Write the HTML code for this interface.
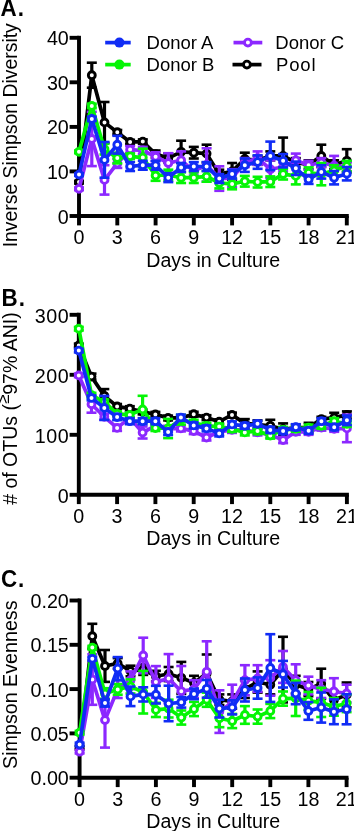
<!DOCTYPE html>
<html><head><meta charset="utf-8"><style>
html,body{margin:0;padding:0;background:#fff;}
svg{display:block;will-change:transform;font-family:"Liberation Sans", sans-serif;}
</style></head><body>
<svg width="354" height="831" viewBox="0 0 354 831">
<rect width="354" height="831" fill="#fff"/>
<g stroke="#000" stroke-width="3.9" fill="none">
<line x1="79.0" y1="35.8" x2="79.0" y2="216.0"/>
<line x1="77.1" y1="216.0" x2="348.8" y2="216.0"/>
<line x1="69.6" y1="216.0" x2="79.0" y2="216.0"/>
<line x1="69.6" y1="171.4" x2="79.0" y2="171.4"/>
<line x1="69.6" y1="126.9" x2="79.0" y2="126.9"/>
<line x1="69.6" y1="82.3" x2="79.0" y2="82.3"/>
<line x1="69.6" y1="37.8" x2="79.0" y2="37.8"/>
<line x1="79.0" y1="216.0" x2="79.0" y2="225.4"/>
<line x1="117.3" y1="216.0" x2="117.3" y2="225.4"/>
<line x1="155.6" y1="216.0" x2="155.6" y2="225.4"/>
<line x1="193.8" y1="216.0" x2="193.8" y2="225.4"/>
<line x1="232.1" y1="216.0" x2="232.1" y2="225.4"/>
<line x1="270.3" y1="216.0" x2="270.3" y2="225.4"/>
<line x1="308.6" y1="216.0" x2="308.6" y2="225.4"/>
<line x1="346.8" y1="216.0" x2="346.8" y2="225.4"/>
</g>
<g stroke="#000000"><line x1="79.0" y1="180.8" x2="79.0" y2="183.5" stroke-width="3.2"/><line x1="74.0" y1="180.8" x2="84.0" y2="180.8" stroke-width="2.6"/><line x1="74.0" y1="183.5" x2="84.0" y2="183.5" stroke-width="2.6"/><line x1="91.8" y1="62.7" x2="91.8" y2="87.7" stroke-width="3.2"/><line x1="86.8" y1="62.7" x2="96.8" y2="62.7" stroke-width="2.6"/><line x1="86.8" y1="87.7" x2="96.8" y2="87.7" stroke-width="2.6"/><line x1="104.5" y1="102.0" x2="104.5" y2="142.9" stroke-width="3.2"/><line x1="99.5" y1="102.0" x2="109.5" y2="102.0" stroke-width="2.6"/><line x1="99.5" y1="142.9" x2="109.5" y2="142.9" stroke-width="2.6"/><line x1="117.3" y1="130.0" x2="117.3" y2="134.5" stroke-width="3.2"/><line x1="112.3" y1="130.0" x2="122.3" y2="130.0" stroke-width="2.6"/><line x1="112.3" y1="134.5" x2="122.3" y2="134.5" stroke-width="2.6"/><line x1="130.1" y1="139.8" x2="130.1" y2="144.3" stroke-width="3.2"/><line x1="125.1" y1="139.8" x2="135.1" y2="139.8" stroke-width="2.6"/><line x1="125.1" y1="144.3" x2="135.1" y2="144.3" stroke-width="2.6"/><line x1="142.8" y1="139.4" x2="142.8" y2="143.8" stroke-width="3.2"/><line x1="137.8" y1="139.4" x2="147.8" y2="139.4" stroke-width="2.6"/><line x1="137.8" y1="143.8" x2="147.8" y2="143.8" stroke-width="2.6"/><line x1="155.6" y1="150.5" x2="155.6" y2="157.6" stroke-width="3.2"/><line x1="150.6" y1="150.5" x2="160.6" y2="150.5" stroke-width="2.6"/><line x1="150.6" y1="157.6" x2="160.6" y2="157.6" stroke-width="2.6"/><line x1="168.3" y1="153.6" x2="168.3" y2="162.5" stroke-width="3.2"/><line x1="163.3" y1="153.6" x2="173.3" y2="153.6" stroke-width="2.6"/><line x1="163.3" y1="162.5" x2="173.3" y2="162.5" stroke-width="2.6"/><line x1="181.1" y1="140.7" x2="181.1" y2="163.0" stroke-width="3.2"/><line x1="176.1" y1="140.7" x2="186.1" y2="140.7" stroke-width="2.6"/><line x1="176.1" y1="163.0" x2="186.1" y2="163.0" stroke-width="2.6"/><line x1="193.8" y1="146.9" x2="193.8" y2="158.5" stroke-width="3.2"/><line x1="188.8" y1="146.9" x2="198.8" y2="146.9" stroke-width="2.6"/><line x1="188.8" y1="158.5" x2="198.8" y2="158.5" stroke-width="2.6"/><line x1="206.6" y1="144.7" x2="206.6" y2="162.5" stroke-width="3.2"/><line x1="201.6" y1="144.7" x2="211.6" y2="144.7" stroke-width="2.6"/><line x1="201.6" y1="162.5" x2="211.6" y2="162.5" stroke-width="2.6"/><line x1="219.3" y1="169.7" x2="219.3" y2="178.6" stroke-width="3.2"/><line x1="214.3" y1="169.7" x2="224.3" y2="169.7" stroke-width="2.6"/><line x1="214.3" y1="178.6" x2="224.3" y2="178.6" stroke-width="2.6"/><line x1="232.1" y1="163.0" x2="232.1" y2="179.9" stroke-width="3.2"/><line x1="227.1" y1="163.0" x2="237.1" y2="163.0" stroke-width="2.6"/><line x1="227.1" y1="179.9" x2="237.1" y2="179.9" stroke-width="2.6"/><line x1="244.8" y1="152.7" x2="244.8" y2="165.2" stroke-width="3.2"/><line x1="239.8" y1="152.7" x2="249.8" y2="152.7" stroke-width="2.6"/><line x1="239.8" y1="165.2" x2="249.8" y2="165.2" stroke-width="2.6"/><line x1="257.6" y1="155.9" x2="257.6" y2="164.8" stroke-width="3.2"/><line x1="252.6" y1="155.9" x2="262.6" y2="155.9" stroke-width="2.6"/><line x1="252.6" y1="164.8" x2="262.6" y2="164.8" stroke-width="2.6"/><line x1="270.3" y1="151.4" x2="270.3" y2="160.3" stroke-width="3.2"/><line x1="265.3" y1="151.4" x2="275.3" y2="151.4" stroke-width="2.6"/><line x1="265.3" y1="160.3" x2="275.3" y2="160.3" stroke-width="2.6"/><line x1="283.1" y1="137.6" x2="283.1" y2="174.1" stroke-width="3.2"/><line x1="278.1" y1="137.6" x2="288.1" y2="137.6" stroke-width="2.6"/><line x1="278.1" y1="174.1" x2="288.1" y2="174.1" stroke-width="2.6"/><line x1="295.8" y1="158.1" x2="295.8" y2="167.0" stroke-width="3.2"/><line x1="290.8" y1="158.1" x2="300.8" y2="158.1" stroke-width="2.6"/><line x1="290.8" y1="167.0" x2="300.8" y2="167.0" stroke-width="2.6"/><line x1="308.6" y1="160.3" x2="308.6" y2="169.2" stroke-width="3.2"/><line x1="303.6" y1="160.3" x2="313.6" y2="160.3" stroke-width="2.6"/><line x1="303.6" y1="169.2" x2="313.6" y2="169.2" stroke-width="2.6"/><line x1="321.3" y1="144.7" x2="321.3" y2="167.0" stroke-width="3.2"/><line x1="316.3" y1="144.7" x2="326.3" y2="144.7" stroke-width="2.6"/><line x1="316.3" y1="167.0" x2="326.3" y2="167.0" stroke-width="2.6"/><line x1="334.1" y1="160.3" x2="334.1" y2="169.2" stroke-width="3.2"/><line x1="329.1" y1="160.3" x2="339.1" y2="160.3" stroke-width="2.6"/><line x1="329.1" y1="169.2" x2="339.1" y2="169.2" stroke-width="2.6"/><line x1="346.8" y1="149.2" x2="346.8" y2="172.3" stroke-width="3.2"/><line x1="341.8" y1="149.2" x2="351.8" y2="149.2" stroke-width="2.6"/><line x1="341.8" y1="172.3" x2="351.8" y2="172.3" stroke-width="2.6"/><polyline points="79.0,182.1 91.8,75.2 104.5,122.4 117.3,132.2 130.1,142.0 142.8,141.6 155.6,154.1 168.3,158.1 181.1,151.8 193.8,152.7 206.6,153.6 219.3,174.1 232.1,171.4 244.8,159.0 257.6,160.3 270.3,155.9 283.1,155.9 295.8,162.5 308.6,164.8 321.3,155.9 334.1,164.8 346.8,160.8" fill="none" stroke-width="3.7" stroke-linejoin="round"/><circle cx="79.0" cy="182.1" r="3.45" fill="#fff" stroke-width="2.9"/><circle cx="91.8" cy="75.2" r="3.45" fill="#fff" stroke-width="2.9"/><circle cx="104.5" cy="122.4" r="3.45" fill="#fff" stroke-width="2.9"/><circle cx="117.3" cy="132.2" r="3.45" fill="#fff" stroke-width="2.9"/><circle cx="130.1" cy="142.0" r="3.45" fill="#fff" stroke-width="2.9"/><circle cx="142.8" cy="141.6" r="3.45" fill="#fff" stroke-width="2.9"/><circle cx="155.6" cy="154.1" r="3.45" fill="#fff" stroke-width="2.9"/><circle cx="168.3" cy="158.1" r="3.45" fill="#fff" stroke-width="2.9"/><circle cx="181.1" cy="151.8" r="3.45" fill="#fff" stroke-width="2.9"/><circle cx="193.8" cy="152.7" r="3.45" fill="#fff" stroke-width="2.9"/><circle cx="206.6" cy="153.6" r="3.45" fill="#fff" stroke-width="2.9"/><circle cx="219.3" cy="174.1" r="3.45" fill="#fff" stroke-width="2.9"/><circle cx="232.1" cy="171.4" r="3.45" fill="#fff" stroke-width="2.9"/><circle cx="244.8" cy="159.0" r="3.45" fill="#fff" stroke-width="2.9"/><circle cx="257.6" cy="160.3" r="3.45" fill="#fff" stroke-width="2.9"/><circle cx="270.3" cy="155.9" r="3.45" fill="#fff" stroke-width="2.9"/><circle cx="283.1" cy="155.9" r="3.45" fill="#fff" stroke-width="2.9"/><circle cx="295.8" cy="162.5" r="3.45" fill="#fff" stroke-width="2.9"/><circle cx="308.6" cy="164.8" r="3.45" fill="#fff" stroke-width="2.9"/><circle cx="321.3" cy="155.9" r="3.45" fill="#fff" stroke-width="2.9"/><circle cx="334.1" cy="164.8" r="3.45" fill="#fff" stroke-width="2.9"/><circle cx="346.8" cy="160.8" r="3.45" fill="#fff" stroke-width="2.9"/></g>
<g stroke="#8c28ff"><line x1="79.0" y1="187.5" x2="79.0" y2="190.2" stroke-width="3.2"/><line x1="74.0" y1="187.5" x2="84.0" y2="187.5" stroke-width="2.6"/><line x1="74.0" y1="190.2" x2="84.0" y2="190.2" stroke-width="2.6"/><line x1="91.8" y1="111.8" x2="91.8" y2="166.1" stroke-width="3.2"/><line x1="86.8" y1="111.8" x2="96.8" y2="111.8" stroke-width="2.6"/><line x1="86.8" y1="166.1" x2="96.8" y2="166.1" stroke-width="2.6"/><line x1="104.5" y1="165.2" x2="104.5" y2="194.6" stroke-width="3.2"/><line x1="99.5" y1="165.2" x2="109.5" y2="165.2" stroke-width="2.6"/><line x1="99.5" y1="194.6" x2="109.5" y2="194.6" stroke-width="2.6"/><line x1="117.3" y1="159.0" x2="117.3" y2="167.9" stroke-width="3.2"/><line x1="112.3" y1="159.0" x2="122.3" y2="159.0" stroke-width="2.6"/><line x1="112.3" y1="167.9" x2="122.3" y2="167.9" stroke-width="2.6"/><line x1="130.1" y1="146.1" x2="130.1" y2="153.2" stroke-width="3.2"/><line x1="125.1" y1="146.1" x2="135.1" y2="146.1" stroke-width="2.6"/><line x1="125.1" y1="153.2" x2="135.1" y2="153.2" stroke-width="2.6"/><line x1="142.8" y1="146.9" x2="142.8" y2="154.1" stroke-width="3.2"/><line x1="137.8" y1="146.9" x2="147.8" y2="146.9" stroke-width="2.6"/><line x1="137.8" y1="154.1" x2="147.8" y2="154.1" stroke-width="2.6"/><line x1="155.6" y1="152.3" x2="155.6" y2="161.2" stroke-width="3.2"/><line x1="150.6" y1="152.3" x2="160.6" y2="152.3" stroke-width="2.6"/><line x1="150.6" y1="161.2" x2="160.6" y2="161.2" stroke-width="2.6"/><line x1="168.3" y1="153.2" x2="168.3" y2="172.8" stroke-width="3.2"/><line x1="163.3" y1="153.2" x2="173.3" y2="153.2" stroke-width="2.6"/><line x1="163.3" y1="172.8" x2="173.3" y2="172.8" stroke-width="2.6"/><line x1="181.1" y1="151.4" x2="181.1" y2="169.2" stroke-width="3.2"/><line x1="176.1" y1="151.4" x2="186.1" y2="151.4" stroke-width="2.6"/><line x1="176.1" y1="169.2" x2="186.1" y2="169.2" stroke-width="2.6"/><line x1="193.8" y1="166.5" x2="193.8" y2="175.5" stroke-width="3.2"/><line x1="188.8" y1="166.5" x2="198.8" y2="166.5" stroke-width="2.6"/><line x1="188.8" y1="175.5" x2="198.8" y2="175.5" stroke-width="2.6"/><line x1="206.6" y1="148.3" x2="206.6" y2="181.7" stroke-width="3.2"/><line x1="201.6" y1="148.3" x2="211.6" y2="148.3" stroke-width="2.6"/><line x1="201.6" y1="181.7" x2="211.6" y2="181.7" stroke-width="2.6"/><line x1="219.3" y1="166.3" x2="219.3" y2="190.8" stroke-width="3.2"/><line x1="214.3" y1="166.3" x2="224.3" y2="166.3" stroke-width="2.6"/><line x1="214.3" y1="190.8" x2="224.3" y2="190.8" stroke-width="2.6"/><line x1="232.1" y1="169.2" x2="232.1" y2="187.0" stroke-width="3.2"/><line x1="227.1" y1="169.2" x2="237.1" y2="169.2" stroke-width="2.6"/><line x1="227.1" y1="187.0" x2="237.1" y2="187.0" stroke-width="2.6"/><line x1="244.8" y1="158.1" x2="244.8" y2="167.0" stroke-width="3.2"/><line x1="239.8" y1="158.1" x2="249.8" y2="158.1" stroke-width="2.6"/><line x1="239.8" y1="167.0" x2="249.8" y2="167.0" stroke-width="2.6"/><line x1="257.6" y1="151.4" x2="257.6" y2="164.8" stroke-width="3.2"/><line x1="252.6" y1="151.4" x2="262.6" y2="151.4" stroke-width="2.6"/><line x1="252.6" y1="164.8" x2="262.6" y2="164.8" stroke-width="2.6"/><line x1="270.3" y1="160.3" x2="270.3" y2="178.1" stroke-width="3.2"/><line x1="265.3" y1="160.3" x2="275.3" y2="160.3" stroke-width="2.6"/><line x1="265.3" y1="178.1" x2="275.3" y2="178.1" stroke-width="2.6"/><line x1="283.1" y1="162.5" x2="283.1" y2="171.4" stroke-width="3.2"/><line x1="278.1" y1="162.5" x2="288.1" y2="162.5" stroke-width="2.6"/><line x1="278.1" y1="171.4" x2="288.1" y2="171.4" stroke-width="2.6"/><line x1="295.8" y1="153.6" x2="295.8" y2="167.0" stroke-width="3.2"/><line x1="290.8" y1="153.6" x2="300.8" y2="153.6" stroke-width="2.6"/><line x1="290.8" y1="167.0" x2="300.8" y2="167.0" stroke-width="2.6"/><line x1="308.6" y1="160.8" x2="308.6" y2="169.7" stroke-width="3.2"/><line x1="303.6" y1="160.8" x2="313.6" y2="160.8" stroke-width="2.6"/><line x1="303.6" y1="169.7" x2="313.6" y2="169.7" stroke-width="2.6"/><line x1="321.3" y1="158.1" x2="321.3" y2="167.0" stroke-width="3.2"/><line x1="316.3" y1="158.1" x2="326.3" y2="158.1" stroke-width="2.6"/><line x1="316.3" y1="167.0" x2="326.3" y2="167.0" stroke-width="2.6"/><line x1="334.1" y1="155.9" x2="334.1" y2="175.5" stroke-width="3.2"/><line x1="329.1" y1="155.9" x2="339.1" y2="155.9" stroke-width="2.6"/><line x1="329.1" y1="175.5" x2="339.1" y2="175.5" stroke-width="2.6"/><line x1="346.8" y1="162.5" x2="346.8" y2="171.4" stroke-width="3.2"/><line x1="341.8" y1="162.5" x2="351.8" y2="162.5" stroke-width="2.6"/><line x1="341.8" y1="171.4" x2="351.8" y2="171.4" stroke-width="2.6"/><polyline points="79.0,188.8 91.8,138.9 104.5,179.9 117.3,163.4 130.1,149.6 142.8,150.5 155.6,156.7 168.3,163.0 181.1,160.3 193.8,171.0 206.6,165.0 219.3,178.6 232.1,178.1 244.8,162.5 257.6,158.1 270.3,169.2 283.1,167.0 295.8,160.3 308.6,165.2 321.3,162.5 334.1,165.7 346.8,167.0" fill="none" stroke-width="3.7" stroke-linejoin="round"/><circle cx="79.0" cy="188.8" r="3.45" fill="#fff" stroke-width="2.9"/><circle cx="91.8" cy="138.9" r="3.45" fill="#fff" stroke-width="2.9"/><circle cx="104.5" cy="179.9" r="3.45" fill="#fff" stroke-width="2.9"/><circle cx="117.3" cy="163.4" r="3.45" fill="#fff" stroke-width="2.9"/><circle cx="130.1" cy="149.6" r="3.45" fill="#fff" stroke-width="2.9"/><circle cx="142.8" cy="150.5" r="3.45" fill="#fff" stroke-width="2.9"/><circle cx="155.6" cy="156.7" r="3.45" fill="#fff" stroke-width="2.9"/><circle cx="168.3" cy="163.0" r="3.45" fill="#fff" stroke-width="2.9"/><circle cx="181.1" cy="160.3" r="3.45" fill="#fff" stroke-width="2.9"/><circle cx="193.8" cy="171.0" r="3.45" fill="#fff" stroke-width="2.9"/><circle cx="206.6" cy="165.0" r="3.45" fill="#fff" stroke-width="2.9"/><circle cx="219.3" cy="178.6" r="3.45" fill="#fff" stroke-width="2.9"/><circle cx="232.1" cy="178.1" r="3.45" fill="#fff" stroke-width="2.9"/><circle cx="244.8" cy="162.5" r="3.45" fill="#fff" stroke-width="2.9"/><circle cx="257.6" cy="158.1" r="3.45" fill="#fff" stroke-width="2.9"/><circle cx="270.3" cy="169.2" r="3.45" fill="#fff" stroke-width="2.9"/><circle cx="283.1" cy="167.0" r="3.45" fill="#fff" stroke-width="2.9"/><circle cx="295.8" cy="160.3" r="3.45" fill="#fff" stroke-width="2.9"/><circle cx="308.6" cy="165.2" r="3.45" fill="#fff" stroke-width="2.9"/><circle cx="321.3" cy="162.5" r="3.45" fill="#fff" stroke-width="2.9"/><circle cx="334.1" cy="165.7" r="3.45" fill="#fff" stroke-width="2.9"/><circle cx="346.8" cy="167.0" r="3.45" fill="#fff" stroke-width="2.9"/></g>
<g stroke="#05f505"><line x1="79.0" y1="150.5" x2="79.0" y2="153.2" stroke-width="3.2"/><line x1="74.0" y1="150.5" x2="84.0" y2="150.5" stroke-width="2.6"/><line x1="74.0" y1="153.2" x2="84.0" y2="153.2" stroke-width="2.6"/><line x1="91.8" y1="103.7" x2="91.8" y2="108.2" stroke-width="3.2"/><line x1="86.8" y1="103.7" x2="96.8" y2="103.7" stroke-width="2.6"/><line x1="86.8" y1="108.2" x2="96.8" y2="108.2" stroke-width="2.6"/><line x1="104.5" y1="143.8" x2="104.5" y2="154.5" stroke-width="3.2"/><line x1="99.5" y1="143.8" x2="109.5" y2="143.8" stroke-width="2.6"/><line x1="99.5" y1="154.5" x2="109.5" y2="154.5" stroke-width="2.6"/><line x1="117.3" y1="152.7" x2="117.3" y2="163.4" stroke-width="3.2"/><line x1="112.3" y1="152.7" x2="122.3" y2="152.7" stroke-width="2.6"/><line x1="112.3" y1="163.4" x2="122.3" y2="163.4" stroke-width="2.6"/><line x1="130.1" y1="153.6" x2="130.1" y2="159.0" stroke-width="3.2"/><line x1="125.1" y1="153.6" x2="135.1" y2="153.6" stroke-width="2.6"/><line x1="125.1" y1="159.0" x2="135.1" y2="159.0" stroke-width="2.6"/><line x1="142.8" y1="148.7" x2="142.8" y2="166.5" stroke-width="3.2"/><line x1="137.8" y1="148.7" x2="147.8" y2="148.7" stroke-width="2.6"/><line x1="137.8" y1="166.5" x2="147.8" y2="166.5" stroke-width="2.6"/><line x1="155.6" y1="170.1" x2="155.6" y2="180.8" stroke-width="3.2"/><line x1="150.6" y1="170.1" x2="160.6" y2="170.1" stroke-width="2.6"/><line x1="150.6" y1="180.8" x2="160.6" y2="180.8" stroke-width="2.6"/><line x1="168.3" y1="169.7" x2="168.3" y2="180.4" stroke-width="3.2"/><line x1="163.3" y1="169.7" x2="173.3" y2="169.7" stroke-width="2.6"/><line x1="163.3" y1="180.4" x2="173.3" y2="180.4" stroke-width="2.6"/><line x1="181.1" y1="172.3" x2="181.1" y2="183.0" stroke-width="3.2"/><line x1="176.1" y1="172.3" x2="186.1" y2="172.3" stroke-width="2.6"/><line x1="176.1" y1="183.0" x2="186.1" y2="183.0" stroke-width="2.6"/><line x1="193.8" y1="172.3" x2="193.8" y2="183.0" stroke-width="3.2"/><line x1="188.8" y1="172.3" x2="198.8" y2="172.3" stroke-width="2.6"/><line x1="188.8" y1="183.0" x2="198.8" y2="183.0" stroke-width="2.6"/><line x1="206.6" y1="171.0" x2="206.6" y2="181.7" stroke-width="3.2"/><line x1="201.6" y1="171.0" x2="211.6" y2="171.0" stroke-width="2.6"/><line x1="201.6" y1="181.7" x2="211.6" y2="181.7" stroke-width="2.6"/><line x1="219.3" y1="177.7" x2="219.3" y2="188.4" stroke-width="3.2"/><line x1="214.3" y1="177.7" x2="224.3" y2="177.7" stroke-width="2.6"/><line x1="214.3" y1="188.4" x2="224.3" y2="188.4" stroke-width="2.6"/><line x1="232.1" y1="178.6" x2="232.1" y2="189.3" stroke-width="3.2"/><line x1="227.1" y1="178.6" x2="237.1" y2="178.6" stroke-width="2.6"/><line x1="227.1" y1="189.3" x2="237.1" y2="189.3" stroke-width="2.6"/><line x1="244.8" y1="175.9" x2="244.8" y2="186.6" stroke-width="3.2"/><line x1="239.8" y1="175.9" x2="249.8" y2="175.9" stroke-width="2.6"/><line x1="239.8" y1="186.6" x2="249.8" y2="186.6" stroke-width="2.6"/><line x1="257.6" y1="176.8" x2="257.6" y2="187.5" stroke-width="3.2"/><line x1="252.6" y1="176.8" x2="262.6" y2="176.8" stroke-width="2.6"/><line x1="252.6" y1="187.5" x2="262.6" y2="187.5" stroke-width="2.6"/><line x1="270.3" y1="176.4" x2="270.3" y2="187.0" stroke-width="3.2"/><line x1="265.3" y1="176.4" x2="275.3" y2="176.4" stroke-width="2.6"/><line x1="265.3" y1="187.0" x2="275.3" y2="187.0" stroke-width="2.6"/><line x1="283.1" y1="168.8" x2="283.1" y2="179.5" stroke-width="3.2"/><line x1="278.1" y1="168.8" x2="288.1" y2="168.8" stroke-width="2.6"/><line x1="278.1" y1="179.5" x2="288.1" y2="179.5" stroke-width="2.6"/><line x1="295.8" y1="167.4" x2="295.8" y2="184.4" stroke-width="3.2"/><line x1="290.8" y1="167.4" x2="300.8" y2="167.4" stroke-width="2.6"/><line x1="290.8" y1="184.4" x2="300.8" y2="184.4" stroke-width="2.6"/><line x1="308.6" y1="167.4" x2="308.6" y2="178.1" stroke-width="3.2"/><line x1="303.6" y1="167.4" x2="313.6" y2="167.4" stroke-width="2.6"/><line x1="303.6" y1="178.1" x2="313.6" y2="178.1" stroke-width="2.6"/><line x1="321.3" y1="163.0" x2="321.3" y2="185.3" stroke-width="3.2"/><line x1="316.3" y1="163.0" x2="326.3" y2="163.0" stroke-width="2.6"/><line x1="316.3" y1="185.3" x2="326.3" y2="185.3" stroke-width="2.6"/><line x1="334.1" y1="165.2" x2="334.1" y2="175.9" stroke-width="3.2"/><line x1="329.1" y1="165.2" x2="339.1" y2="165.2" stroke-width="2.6"/><line x1="329.1" y1="175.9" x2="339.1" y2="175.9" stroke-width="2.6"/><line x1="346.8" y1="160.8" x2="346.8" y2="171.4" stroke-width="3.2"/><line x1="341.8" y1="160.8" x2="351.8" y2="160.8" stroke-width="2.6"/><line x1="341.8" y1="171.4" x2="351.8" y2="171.4" stroke-width="2.6"/><polyline points="79.0,151.8 91.8,106.0 104.5,149.2 117.3,158.1 130.1,156.3 142.8,157.6 155.6,175.5 168.3,175.0 181.1,177.7 193.8,177.7 206.6,176.4 219.3,183.0 232.1,183.9 244.8,181.3 257.6,182.1 270.3,181.7 283.1,174.1 295.8,175.9 308.6,172.8 321.3,174.1 334.1,170.6 346.8,166.1" fill="none" stroke-width="3.7" stroke-linejoin="round"/><circle cx="79.0" cy="151.8" r="3.45" fill="#fff" stroke-width="2.9"/><circle cx="91.8" cy="106.0" r="3.45" fill="#fff" stroke-width="2.9"/><circle cx="104.5" cy="149.2" r="3.45" fill="#fff" stroke-width="2.9"/><circle cx="117.3" cy="158.1" r="3.45" fill="#fff" stroke-width="2.9"/><circle cx="130.1" cy="156.3" r="3.45" fill="#fff" stroke-width="2.9"/><circle cx="142.8" cy="157.6" r="3.45" fill="#fff" stroke-width="2.9"/><circle cx="155.6" cy="175.5" r="3.45" fill="#fff" stroke-width="2.9"/><circle cx="168.3" cy="175.0" r="3.45" fill="#fff" stroke-width="2.9"/><circle cx="181.1" cy="177.7" r="3.45" fill="#fff" stroke-width="2.9"/><circle cx="193.8" cy="177.7" r="3.45" fill="#fff" stroke-width="2.9"/><circle cx="206.6" cy="176.4" r="3.45" fill="#fff" stroke-width="2.9"/><circle cx="219.3" cy="183.0" r="3.45" fill="#fff" stroke-width="2.9"/><circle cx="232.1" cy="183.9" r="3.45" fill="#fff" stroke-width="2.9"/><circle cx="244.8" cy="181.3" r="3.45" fill="#fff" stroke-width="2.9"/><circle cx="257.6" cy="182.1" r="3.45" fill="#fff" stroke-width="2.9"/><circle cx="270.3" cy="181.7" r="3.45" fill="#fff" stroke-width="2.9"/><circle cx="283.1" cy="174.1" r="3.45" fill="#fff" stroke-width="2.9"/><circle cx="295.8" cy="175.9" r="3.45" fill="#fff" stroke-width="2.9"/><circle cx="308.6" cy="172.8" r="3.45" fill="#fff" stroke-width="2.9"/><circle cx="321.3" cy="174.1" r="3.45" fill="#fff" stroke-width="2.9"/><circle cx="334.1" cy="170.6" r="3.45" fill="#fff" stroke-width="2.9"/><circle cx="346.8" cy="166.1" r="3.45" fill="#fff" stroke-width="2.9"/></g>
<g stroke="#102cf5"><line x1="79.0" y1="173.2" x2="79.0" y2="175.9" stroke-width="3.2"/><line x1="74.0" y1="173.2" x2="84.0" y2="173.2" stroke-width="2.6"/><line x1="74.0" y1="175.9" x2="84.0" y2="175.9" stroke-width="2.6"/><line x1="91.8" y1="116.7" x2="91.8" y2="121.1" stroke-width="3.2"/><line x1="86.8" y1="116.7" x2="96.8" y2="116.7" stroke-width="2.6"/><line x1="86.8" y1="121.1" x2="96.8" y2="121.1" stroke-width="2.6"/><line x1="104.5" y1="142.0" x2="104.5" y2="177.7" stroke-width="3.2"/><line x1="99.5" y1="142.0" x2="109.5" y2="142.0" stroke-width="2.6"/><line x1="99.5" y1="177.7" x2="109.5" y2="177.7" stroke-width="2.6"/><line x1="117.3" y1="135.8" x2="117.3" y2="153.6" stroke-width="3.2"/><line x1="112.3" y1="135.8" x2="122.3" y2="135.8" stroke-width="2.6"/><line x1="112.3" y1="153.6" x2="122.3" y2="153.6" stroke-width="2.6"/><line x1="130.1" y1="162.1" x2="130.1" y2="171.0" stroke-width="3.2"/><line x1="125.1" y1="162.1" x2="135.1" y2="162.1" stroke-width="2.6"/><line x1="125.1" y1="171.0" x2="135.1" y2="171.0" stroke-width="2.6"/><line x1="142.8" y1="160.8" x2="142.8" y2="169.7" stroke-width="3.2"/><line x1="137.8" y1="160.8" x2="147.8" y2="160.8" stroke-width="2.6"/><line x1="137.8" y1="169.7" x2="147.8" y2="169.7" stroke-width="2.6"/><line x1="155.6" y1="160.8" x2="155.6" y2="169.7" stroke-width="3.2"/><line x1="150.6" y1="160.8" x2="160.6" y2="160.8" stroke-width="2.6"/><line x1="150.6" y1="169.7" x2="160.6" y2="169.7" stroke-width="2.6"/><line x1="168.3" y1="173.2" x2="168.3" y2="182.1" stroke-width="3.2"/><line x1="163.3" y1="173.2" x2="173.3" y2="173.2" stroke-width="2.6"/><line x1="163.3" y1="182.1" x2="173.3" y2="182.1" stroke-width="2.6"/><line x1="181.1" y1="163.0" x2="181.1" y2="171.9" stroke-width="3.2"/><line x1="176.1" y1="163.0" x2="186.1" y2="163.0" stroke-width="2.6"/><line x1="176.1" y1="171.9" x2="186.1" y2="171.9" stroke-width="2.6"/><line x1="193.8" y1="162.1" x2="193.8" y2="171.0" stroke-width="3.2"/><line x1="188.8" y1="162.1" x2="198.8" y2="162.1" stroke-width="2.6"/><line x1="188.8" y1="171.0" x2="198.8" y2="171.0" stroke-width="2.6"/><line x1="206.6" y1="162.1" x2="206.6" y2="171.0" stroke-width="3.2"/><line x1="201.6" y1="162.1" x2="211.6" y2="162.1" stroke-width="2.6"/><line x1="201.6" y1="171.0" x2="211.6" y2="171.0" stroke-width="2.6"/><line x1="219.3" y1="174.1" x2="219.3" y2="183.0" stroke-width="3.2"/><line x1="214.3" y1="174.1" x2="224.3" y2="174.1" stroke-width="2.6"/><line x1="214.3" y1="183.0" x2="224.3" y2="183.0" stroke-width="2.6"/><line x1="232.1" y1="169.7" x2="232.1" y2="178.6" stroke-width="3.2"/><line x1="227.1" y1="169.7" x2="237.1" y2="169.7" stroke-width="2.6"/><line x1="227.1" y1="178.6" x2="237.1" y2="178.6" stroke-width="2.6"/><line x1="244.8" y1="158.5" x2="244.8" y2="171.9" stroke-width="3.2"/><line x1="239.8" y1="158.5" x2="249.8" y2="158.5" stroke-width="2.6"/><line x1="239.8" y1="171.9" x2="249.8" y2="171.9" stroke-width="2.6"/><line x1="257.6" y1="155.4" x2="257.6" y2="168.8" stroke-width="3.2"/><line x1="252.6" y1="155.4" x2="262.6" y2="155.4" stroke-width="2.6"/><line x1="252.6" y1="168.8" x2="262.6" y2="168.8" stroke-width="2.6"/><line x1="270.3" y1="141.6" x2="270.3" y2="170.1" stroke-width="3.2"/><line x1="265.3" y1="141.6" x2="275.3" y2="141.6" stroke-width="2.6"/><line x1="265.3" y1="170.1" x2="275.3" y2="170.1" stroke-width="2.6"/><line x1="283.1" y1="154.1" x2="283.1" y2="167.4" stroke-width="3.2"/><line x1="278.1" y1="154.1" x2="288.1" y2="154.1" stroke-width="2.6"/><line x1="278.1" y1="167.4" x2="288.1" y2="167.4" stroke-width="2.6"/><line x1="295.8" y1="161.6" x2="295.8" y2="175.0" stroke-width="3.2"/><line x1="290.8" y1="161.6" x2="300.8" y2="161.6" stroke-width="2.6"/><line x1="290.8" y1="175.0" x2="300.8" y2="175.0" stroke-width="2.6"/><line x1="308.6" y1="175.0" x2="308.6" y2="183.9" stroke-width="3.2"/><line x1="303.6" y1="175.0" x2="313.6" y2="175.0" stroke-width="2.6"/><line x1="303.6" y1="183.9" x2="313.6" y2="183.9" stroke-width="2.6"/><line x1="321.3" y1="165.2" x2="321.3" y2="178.6" stroke-width="3.2"/><line x1="316.3" y1="165.2" x2="326.3" y2="165.2" stroke-width="2.6"/><line x1="316.3" y1="178.6" x2="326.3" y2="178.6" stroke-width="2.6"/><line x1="334.1" y1="171.0" x2="334.1" y2="184.4" stroke-width="3.2"/><line x1="329.1" y1="171.0" x2="339.1" y2="171.0" stroke-width="2.6"/><line x1="329.1" y1="184.4" x2="339.1" y2="184.4" stroke-width="2.6"/><line x1="346.8" y1="167.0" x2="346.8" y2="180.4" stroke-width="3.2"/><line x1="341.8" y1="167.0" x2="351.8" y2="167.0" stroke-width="2.6"/><line x1="341.8" y1="180.4" x2="351.8" y2="180.4" stroke-width="2.6"/><polyline points="79.0,174.6 91.8,118.9 104.5,159.9 117.3,144.7 130.1,166.5 142.8,165.2 155.6,165.2 168.3,177.7 181.1,167.4 193.8,166.5 206.6,166.5 219.3,178.6 232.1,174.1 244.8,165.2 257.6,162.1 270.3,155.9 283.1,160.8 295.8,168.3 308.6,179.5 321.3,171.9 334.1,177.7 346.8,173.7" fill="none" stroke-width="3.7" stroke-linejoin="round"/><circle cx="79.0" cy="174.6" r="3.45" fill="#fff" stroke-width="2.9"/><circle cx="91.8" cy="118.9" r="3.45" fill="#fff" stroke-width="2.9"/><circle cx="104.5" cy="159.9" r="3.45" fill="#fff" stroke-width="2.9"/><circle cx="117.3" cy="144.7" r="3.45" fill="#fff" stroke-width="2.9"/><circle cx="130.1" cy="166.5" r="3.45" fill="#fff" stroke-width="2.9"/><circle cx="142.8" cy="165.2" r="3.45" fill="#fff" stroke-width="2.9"/><circle cx="155.6" cy="165.2" r="3.45" fill="#fff" stroke-width="2.9"/><circle cx="168.3" cy="177.7" r="3.45" fill="#fff" stroke-width="2.9"/><circle cx="181.1" cy="167.4" r="3.45" fill="#fff" stroke-width="2.9"/><circle cx="193.8" cy="166.5" r="3.45" fill="#fff" stroke-width="2.9"/><circle cx="206.6" cy="166.5" r="3.45" fill="#fff" stroke-width="2.9"/><circle cx="219.3" cy="178.6" r="3.45" fill="#fff" stroke-width="2.9"/><circle cx="232.1" cy="174.1" r="3.45" fill="#fff" stroke-width="2.9"/><circle cx="244.8" cy="165.2" r="3.45" fill="#fff" stroke-width="2.9"/><circle cx="257.6" cy="162.1" r="3.45" fill="#fff" stroke-width="2.9"/><circle cx="270.3" cy="155.9" r="3.45" fill="#fff" stroke-width="2.9"/><circle cx="283.1" cy="160.8" r="3.45" fill="#fff" stroke-width="2.9"/><circle cx="295.8" cy="168.3" r="3.45" fill="#fff" stroke-width="2.9"/><circle cx="308.6" cy="179.5" r="3.45" fill="#fff" stroke-width="2.9"/><circle cx="321.3" cy="171.9" r="3.45" fill="#fff" stroke-width="2.9"/><circle cx="334.1" cy="177.7" r="3.45" fill="#fff" stroke-width="2.9"/><circle cx="346.8" cy="173.7" r="3.45" fill="#fff" stroke-width="2.9"/></g>
<g font-size="19.7" fill="#000" text-anchor="end">
<text x="68.8" y="223.5" letter-spacing="0">0</text>
<text x="68.8" y="178.9" letter-spacing="0">10</text>
<text x="68.8" y="134.4" letter-spacing="0">20</text>
<text x="68.8" y="89.8" letter-spacing="0">30</text>
<text x="68.8" y="45.3" letter-spacing="0">40</text>
</g>
<g font-size="19.7" fill="#000" text-anchor="middle">
<text x="79.0" y="244.1">0</text>
<text x="117.3" y="244.1">3</text>
<text x="155.6" y="244.1">6</text>
<text x="193.8" y="244.1">9</text>
<text x="232.1" y="244.1">12</text>
<text x="270.3" y="244.1">15</text>
<text x="308.6" y="244.1">18</text>
<text x="346.8" y="244.1">21</text>
</g>
<text x="146.3" y="267.4" font-size="19.6">Days in Culture</text>
<text transform="translate(17.2 135.3) rotate(-90)" text-anchor="middle" font-size="19.4">Inverse Simpson Diversity</text>
<text transform="translate(0.6 16.2) scale(1 1.1)" font-size="22.4" font-weight="bold" letter-spacing="1.0">A.</text>
<g stroke="#000" stroke-width="3.9" fill="none">
<line x1="78.8" y1="312.8" x2="78.8" y2="494.8"/>
<line x1="76.8" y1="494.8" x2="348.9" y2="494.8"/>
<line x1="69.6" y1="494.8" x2="78.8" y2="494.8"/>
<line x1="69.6" y1="434.8" x2="78.8" y2="434.8"/>
<line x1="69.6" y1="374.8" x2="78.8" y2="374.8"/>
<line x1="69.6" y1="314.8" x2="78.8" y2="314.8"/>
<line x1="78.8" y1="494.8" x2="78.8" y2="504.1"/>
<line x1="117.1" y1="494.8" x2="117.1" y2="504.1"/>
<line x1="155.4" y1="494.8" x2="155.4" y2="504.1"/>
<line x1="193.7" y1="494.8" x2="193.7" y2="504.1"/>
<line x1="232.0" y1="494.8" x2="232.0" y2="504.1"/>
<line x1="270.3" y1="494.8" x2="270.3" y2="504.1"/>
<line x1="308.6" y1="494.8" x2="308.6" y2="504.1"/>
<line x1="346.9" y1="494.8" x2="346.9" y2="504.1"/>
</g>
<g stroke="#000000"><line x1="78.8" y1="343.6" x2="78.8" y2="347.1" stroke-width="3.2"/><line x1="73.8" y1="343.6" x2="83.8" y2="343.6" stroke-width="2.6"/><line x1="73.8" y1="347.1" x2="83.8" y2="347.1" stroke-width="2.6"/><line x1="91.5" y1="373.6" x2="91.5" y2="379.6" stroke-width="3.2"/><line x1="86.5" y1="373.6" x2="96.5" y2="373.6" stroke-width="2.6"/><line x1="86.5" y1="379.6" x2="96.5" y2="379.6" stroke-width="2.6"/><line x1="104.3" y1="389.1" x2="104.3" y2="402.4" stroke-width="3.2"/><line x1="99.3" y1="389.1" x2="109.3" y2="389.1" stroke-width="2.6"/><line x1="99.3" y1="402.4" x2="109.3" y2="402.4" stroke-width="2.6"/><line x1="117.1" y1="404.0" x2="117.1" y2="408.8" stroke-width="3.2"/><line x1="112.1" y1="404.0" x2="122.1" y2="404.0" stroke-width="2.6"/><line x1="112.1" y1="408.8" x2="122.1" y2="408.8" stroke-width="2.6"/><line x1="129.8" y1="406.2" x2="129.8" y2="411.1" stroke-width="3.2"/><line x1="124.8" y1="406.2" x2="134.8" y2="406.2" stroke-width="2.6"/><line x1="124.8" y1="411.1" x2="134.8" y2="411.1" stroke-width="2.6"/><line x1="142.6" y1="409.6" x2="142.6" y2="414.4" stroke-width="3.2"/><line x1="137.6" y1="409.6" x2="147.6" y2="409.6" stroke-width="2.6"/><line x1="137.6" y1="414.4" x2="147.6" y2="414.4" stroke-width="2.6"/><line x1="155.4" y1="411.9" x2="155.4" y2="416.8" stroke-width="3.2"/><line x1="150.4" y1="411.9" x2="160.4" y2="411.9" stroke-width="2.6"/><line x1="150.4" y1="416.8" x2="160.4" y2="416.8" stroke-width="2.6"/><line x1="168.1" y1="415.6" x2="168.1" y2="420.4" stroke-width="3.2"/><line x1="163.1" y1="415.6" x2="173.1" y2="415.6" stroke-width="2.6"/><line x1="163.1" y1="420.4" x2="173.1" y2="420.4" stroke-width="2.6"/><line x1="180.9" y1="415.6" x2="180.9" y2="420.4" stroke-width="3.2"/><line x1="175.9" y1="415.6" x2="185.9" y2="415.6" stroke-width="2.6"/><line x1="175.9" y1="420.4" x2="185.9" y2="420.4" stroke-width="2.6"/><line x1="193.7" y1="411.8" x2="193.7" y2="416.6" stroke-width="3.2"/><line x1="188.7" y1="411.8" x2="198.7" y2="411.8" stroke-width="2.6"/><line x1="188.7" y1="416.6" x2="198.7" y2="416.6" stroke-width="2.6"/><line x1="206.5" y1="415.2" x2="206.5" y2="420.0" stroke-width="3.2"/><line x1="201.5" y1="415.2" x2="211.5" y2="415.2" stroke-width="2.6"/><line x1="201.5" y1="420.0" x2="211.5" y2="420.0" stroke-width="2.6"/><line x1="219.2" y1="419.3" x2="219.2" y2="424.1" stroke-width="3.2"/><line x1="214.2" y1="419.3" x2="224.2" y2="419.3" stroke-width="2.6"/><line x1="214.2" y1="424.1" x2="224.2" y2="424.1" stroke-width="2.6"/><line x1="232.0" y1="412.6" x2="232.0" y2="417.4" stroke-width="3.2"/><line x1="227.0" y1="412.6" x2="237.0" y2="412.6" stroke-width="2.6"/><line x1="227.0" y1="417.4" x2="237.0" y2="417.4" stroke-width="2.6"/><line x1="244.8" y1="419.1" x2="244.8" y2="427.6" stroke-width="3.2"/><line x1="239.8" y1="419.1" x2="249.8" y2="419.1" stroke-width="2.6"/><line x1="239.8" y1="427.6" x2="249.8" y2="427.6" stroke-width="2.6"/><line x1="257.5" y1="420.4" x2="257.5" y2="428.8" stroke-width="3.2"/><line x1="252.5" y1="420.4" x2="262.5" y2="420.4" stroke-width="2.6"/><line x1="252.5" y1="428.8" x2="262.5" y2="428.8" stroke-width="2.6"/><line x1="270.3" y1="419.8" x2="270.3" y2="431.8" stroke-width="3.2"/><line x1="265.3" y1="419.8" x2="275.3" y2="419.8" stroke-width="2.6"/><line x1="265.3" y1="431.8" x2="275.3" y2="431.8" stroke-width="2.6"/><line x1="283.1" y1="423.4" x2="283.1" y2="435.4" stroke-width="3.2"/><line x1="278.1" y1="423.4" x2="288.1" y2="423.4" stroke-width="2.6"/><line x1="278.1" y1="435.4" x2="288.1" y2="435.4" stroke-width="2.6"/><line x1="295.8" y1="424.6" x2="295.8" y2="430.6" stroke-width="3.2"/><line x1="290.8" y1="424.6" x2="300.8" y2="424.6" stroke-width="2.6"/><line x1="290.8" y1="430.6" x2="300.8" y2="430.6" stroke-width="2.6"/><line x1="308.6" y1="422.8" x2="308.6" y2="432.4" stroke-width="3.2"/><line x1="303.6" y1="422.8" x2="313.6" y2="422.8" stroke-width="2.6"/><line x1="303.6" y1="432.4" x2="313.6" y2="432.4" stroke-width="2.6"/><line x1="321.4" y1="416.8" x2="321.4" y2="421.6" stroke-width="3.2"/><line x1="316.4" y1="416.8" x2="326.4" y2="416.8" stroke-width="2.6"/><line x1="316.4" y1="421.6" x2="326.4" y2="421.6" stroke-width="2.6"/><line x1="334.2" y1="412.8" x2="334.2" y2="422.4" stroke-width="3.2"/><line x1="329.2" y1="412.8" x2="339.2" y2="412.8" stroke-width="2.6"/><line x1="329.2" y1="422.4" x2="339.2" y2="422.4" stroke-width="2.6"/><line x1="346.9" y1="411.4" x2="346.9" y2="418.6" stroke-width="3.2"/><line x1="341.9" y1="411.4" x2="351.9" y2="411.4" stroke-width="2.6"/><line x1="341.9" y1="418.6" x2="351.9" y2="418.6" stroke-width="2.6"/><polyline points="78.8,345.4 91.5,376.6 104.3,395.8 117.1,406.4 129.8,408.6 142.6,411.9 155.4,414.4 168.1,417.9 180.9,417.9 193.7,414.2 206.5,417.6 219.2,421.7 232.0,414.9 244.8,423.4 257.5,424.6 270.3,425.8 283.1,429.4 295.8,427.6 308.6,427.6 321.4,419.1 334.2,417.6 346.9,414.9" fill="none" stroke-width="3.7" stroke-linejoin="round"/><circle cx="78.8" cy="345.4" r="3.45" fill="#fff" stroke-width="2.9"/><circle cx="91.5" cy="376.6" r="3.45" fill="#fff" stroke-width="2.9"/><circle cx="104.3" cy="395.8" r="3.45" fill="#fff" stroke-width="2.9"/><circle cx="117.1" cy="406.4" r="3.45" fill="#fff" stroke-width="2.9"/><circle cx="129.8" cy="408.6" r="3.45" fill="#fff" stroke-width="2.9"/><circle cx="142.6" cy="411.9" r="3.45" fill="#fff" stroke-width="2.9"/><circle cx="155.4" cy="414.4" r="3.45" fill="#fff" stroke-width="2.9"/><circle cx="168.1" cy="417.9" r="3.45" fill="#fff" stroke-width="2.9"/><circle cx="180.9" cy="417.9" r="3.45" fill="#fff" stroke-width="2.9"/><circle cx="193.7" cy="414.2" r="3.45" fill="#fff" stroke-width="2.9"/><circle cx="206.5" cy="417.6" r="3.45" fill="#fff" stroke-width="2.9"/><circle cx="219.2" cy="421.7" r="3.45" fill="#fff" stroke-width="2.9"/><circle cx="232.0" cy="414.9" r="3.45" fill="#fff" stroke-width="2.9"/><circle cx="244.8" cy="423.4" r="3.45" fill="#fff" stroke-width="2.9"/><circle cx="257.5" cy="424.6" r="3.45" fill="#fff" stroke-width="2.9"/><circle cx="270.3" cy="425.8" r="3.45" fill="#fff" stroke-width="2.9"/><circle cx="283.1" cy="429.4" r="3.45" fill="#fff" stroke-width="2.9"/><circle cx="295.8" cy="427.6" r="3.45" fill="#fff" stroke-width="2.9"/><circle cx="308.6" cy="427.6" r="3.45" fill="#fff" stroke-width="2.9"/><circle cx="321.4" cy="419.1" r="3.45" fill="#fff" stroke-width="2.9"/><circle cx="334.2" cy="417.6" r="3.45" fill="#fff" stroke-width="2.9"/><circle cx="346.9" cy="414.9" r="3.45" fill="#fff" stroke-width="2.9"/></g>
<g stroke="#8c28ff"><line x1="78.8" y1="373.6" x2="78.8" y2="377.1" stroke-width="3.2"/><line x1="73.8" y1="373.6" x2="83.8" y2="373.6" stroke-width="2.6"/><line x1="73.8" y1="377.1" x2="83.8" y2="377.1" stroke-width="2.6"/><line x1="91.5" y1="395.9" x2="91.5" y2="412.7" stroke-width="3.2"/><line x1="86.5" y1="395.9" x2="96.5" y2="395.9" stroke-width="2.6"/><line x1="86.5" y1="412.7" x2="96.5" y2="412.7" stroke-width="2.6"/><line x1="104.3" y1="413.8" x2="104.3" y2="419.8" stroke-width="3.2"/><line x1="99.3" y1="413.8" x2="109.3" y2="413.8" stroke-width="2.6"/><line x1="99.3" y1="419.8" x2="109.3" y2="419.8" stroke-width="2.6"/><line x1="117.1" y1="424.9" x2="117.1" y2="430.9" stroke-width="3.2"/><line x1="112.1" y1="424.9" x2="122.1" y2="424.9" stroke-width="2.6"/><line x1="112.1" y1="430.9" x2="122.1" y2="430.9" stroke-width="2.6"/><line x1="129.8" y1="412.6" x2="129.8" y2="423.4" stroke-width="3.2"/><line x1="124.8" y1="412.6" x2="134.8" y2="412.6" stroke-width="2.6"/><line x1="124.8" y1="423.4" x2="134.8" y2="423.4" stroke-width="2.6"/><line x1="142.6" y1="426.5" x2="142.6" y2="438.5" stroke-width="3.2"/><line x1="137.6" y1="426.5" x2="147.6" y2="426.5" stroke-width="2.6"/><line x1="137.6" y1="438.5" x2="147.6" y2="438.5" stroke-width="2.6"/><line x1="155.4" y1="422.8" x2="155.4" y2="428.8" stroke-width="3.2"/><line x1="150.4" y1="422.8" x2="160.4" y2="422.8" stroke-width="2.6"/><line x1="150.4" y1="428.8" x2="160.4" y2="428.8" stroke-width="2.6"/><line x1="168.1" y1="425.8" x2="168.1" y2="431.8" stroke-width="3.2"/><line x1="163.1" y1="425.8" x2="173.1" y2="425.8" stroke-width="2.6"/><line x1="163.1" y1="431.8" x2="173.1" y2="431.8" stroke-width="2.6"/><line x1="180.9" y1="425.4" x2="180.9" y2="431.4" stroke-width="3.2"/><line x1="175.9" y1="425.4" x2="185.9" y2="425.4" stroke-width="2.6"/><line x1="175.9" y1="431.4" x2="185.9" y2="431.4" stroke-width="2.6"/><line x1="193.7" y1="428.1" x2="193.7" y2="434.1" stroke-width="3.2"/><line x1="188.7" y1="428.1" x2="198.7" y2="428.1" stroke-width="2.6"/><line x1="188.7" y1="434.1" x2="198.7" y2="434.1" stroke-width="2.6"/><line x1="206.5" y1="434.5" x2="206.5" y2="440.5" stroke-width="3.2"/><line x1="201.5" y1="434.5" x2="211.5" y2="434.5" stroke-width="2.6"/><line x1="201.5" y1="440.5" x2="211.5" y2="440.5" stroke-width="2.6"/><line x1="219.2" y1="428.8" x2="219.2" y2="434.8" stroke-width="3.2"/><line x1="214.2" y1="428.8" x2="224.2" y2="428.8" stroke-width="2.6"/><line x1="214.2" y1="434.8" x2="224.2" y2="434.8" stroke-width="2.6"/><line x1="232.0" y1="426.9" x2="232.0" y2="432.9" stroke-width="3.2"/><line x1="227.0" y1="426.9" x2="237.0" y2="426.9" stroke-width="2.6"/><line x1="227.0" y1="432.9" x2="237.0" y2="432.9" stroke-width="2.6"/><line x1="244.8" y1="426.9" x2="244.8" y2="432.9" stroke-width="3.2"/><line x1="239.8" y1="426.9" x2="249.8" y2="426.9" stroke-width="2.6"/><line x1="239.8" y1="432.9" x2="249.8" y2="432.9" stroke-width="2.6"/><line x1="257.5" y1="429.4" x2="257.5" y2="435.4" stroke-width="3.2"/><line x1="252.5" y1="429.4" x2="262.5" y2="429.4" stroke-width="2.6"/><line x1="252.5" y1="435.4" x2="262.5" y2="435.4" stroke-width="2.6"/><line x1="270.3" y1="431.8" x2="270.3" y2="437.8" stroke-width="3.2"/><line x1="265.3" y1="431.8" x2="275.3" y2="431.8" stroke-width="2.6"/><line x1="265.3" y1="437.8" x2="275.3" y2="437.8" stroke-width="2.6"/><line x1="283.1" y1="437.1" x2="283.1" y2="443.1" stroke-width="3.2"/><line x1="278.1" y1="437.1" x2="288.1" y2="437.1" stroke-width="2.6"/><line x1="278.1" y1="443.1" x2="288.1" y2="443.1" stroke-width="2.6"/><line x1="295.8" y1="428.8" x2="295.8" y2="434.8" stroke-width="3.2"/><line x1="290.8" y1="428.8" x2="300.8" y2="428.8" stroke-width="2.6"/><line x1="290.8" y1="434.8" x2="300.8" y2="434.8" stroke-width="2.6"/><line x1="308.6" y1="428.8" x2="308.6" y2="434.8" stroke-width="3.2"/><line x1="303.6" y1="428.8" x2="313.6" y2="428.8" stroke-width="2.6"/><line x1="303.6" y1="434.8" x2="313.6" y2="434.8" stroke-width="2.6"/><line x1="321.4" y1="424.6" x2="321.4" y2="430.6" stroke-width="3.2"/><line x1="316.4" y1="424.6" x2="326.4" y2="424.6" stroke-width="2.6"/><line x1="316.4" y1="430.6" x2="326.4" y2="430.6" stroke-width="2.6"/><line x1="334.2" y1="425.8" x2="334.2" y2="431.8" stroke-width="3.2"/><line x1="329.2" y1="425.8" x2="339.2" y2="425.8" stroke-width="2.6"/><line x1="329.2" y1="431.8" x2="339.2" y2="431.8" stroke-width="2.6"/><line x1="346.9" y1="414.6" x2="346.9" y2="442.2" stroke-width="3.2"/><line x1="341.9" y1="414.6" x2="351.9" y2="414.6" stroke-width="2.6"/><line x1="341.9" y1="442.2" x2="351.9" y2="442.2" stroke-width="2.6"/><polyline points="78.8,375.4 91.5,404.3 104.3,416.8 117.1,427.9 129.8,417.9 142.6,432.5 155.4,425.8 168.1,428.8 180.9,428.4 193.7,431.1 206.5,437.5 219.2,431.8 232.0,429.9 244.8,429.9 257.5,432.4 270.3,434.8 283.1,440.1 295.8,431.8 308.6,431.8 321.4,427.6 334.2,428.8 346.9,428.4" fill="none" stroke-width="3.7" stroke-linejoin="round"/><circle cx="78.8" cy="375.4" r="3.45" fill="#fff" stroke-width="2.9"/><circle cx="91.5" cy="404.3" r="3.45" fill="#fff" stroke-width="2.9"/><circle cx="104.3" cy="416.8" r="3.45" fill="#fff" stroke-width="2.9"/><circle cx="117.1" cy="427.9" r="3.45" fill="#fff" stroke-width="2.9"/><circle cx="129.8" cy="417.9" r="3.45" fill="#fff" stroke-width="2.9"/><circle cx="142.6" cy="432.5" r="3.45" fill="#fff" stroke-width="2.9"/><circle cx="155.4" cy="425.8" r="3.45" fill="#fff" stroke-width="2.9"/><circle cx="168.1" cy="428.8" r="3.45" fill="#fff" stroke-width="2.9"/><circle cx="180.9" cy="428.4" r="3.45" fill="#fff" stroke-width="2.9"/><circle cx="193.7" cy="431.1" r="3.45" fill="#fff" stroke-width="2.9"/><circle cx="206.5" cy="437.5" r="3.45" fill="#fff" stroke-width="2.9"/><circle cx="219.2" cy="431.8" r="3.45" fill="#fff" stroke-width="2.9"/><circle cx="232.0" cy="429.9" r="3.45" fill="#fff" stroke-width="2.9"/><circle cx="244.8" cy="429.9" r="3.45" fill="#fff" stroke-width="2.9"/><circle cx="257.5" cy="432.4" r="3.45" fill="#fff" stroke-width="2.9"/><circle cx="270.3" cy="434.8" r="3.45" fill="#fff" stroke-width="2.9"/><circle cx="283.1" cy="440.1" r="3.45" fill="#fff" stroke-width="2.9"/><circle cx="295.8" cy="431.8" r="3.45" fill="#fff" stroke-width="2.9"/><circle cx="308.6" cy="431.8" r="3.45" fill="#fff" stroke-width="2.9"/><circle cx="321.4" cy="427.6" r="3.45" fill="#fff" stroke-width="2.9"/><circle cx="334.2" cy="428.8" r="3.45" fill="#fff" stroke-width="2.9"/><circle cx="346.9" cy="428.4" r="3.45" fill="#fff" stroke-width="2.9"/></g>
<g stroke="#05f505"><line x1="78.8" y1="326.9" x2="78.8" y2="330.5" stroke-width="3.2"/><line x1="73.8" y1="326.9" x2="83.8" y2="326.9" stroke-width="2.6"/><line x1="73.8" y1="330.5" x2="83.8" y2="330.5" stroke-width="2.6"/><line x1="91.5" y1="392.8" x2="91.5" y2="397.6" stroke-width="3.2"/><line x1="86.5" y1="392.8" x2="96.5" y2="392.8" stroke-width="2.6"/><line x1="86.5" y1="397.6" x2="96.5" y2="397.6" stroke-width="2.6"/><line x1="104.3" y1="399.4" x2="104.3" y2="404.1" stroke-width="3.2"/><line x1="99.3" y1="399.4" x2="109.3" y2="399.4" stroke-width="2.6"/><line x1="99.3" y1="404.1" x2="109.3" y2="404.1" stroke-width="2.6"/><line x1="117.1" y1="411.4" x2="117.1" y2="416.1" stroke-width="3.2"/><line x1="112.1" y1="411.4" x2="122.1" y2="411.4" stroke-width="2.6"/><line x1="112.1" y1="416.1" x2="122.1" y2="416.1" stroke-width="2.6"/><line x1="129.8" y1="412.6" x2="129.8" y2="417.4" stroke-width="3.2"/><line x1="124.8" y1="412.6" x2="134.8" y2="412.6" stroke-width="2.6"/><line x1="124.8" y1="417.4" x2="134.8" y2="417.4" stroke-width="2.6"/><line x1="142.6" y1="395.8" x2="142.6" y2="423.0" stroke-width="3.2"/><line x1="137.6" y1="395.8" x2="147.6" y2="395.8" stroke-width="2.6"/><line x1="137.6" y1="423.0" x2="147.6" y2="423.0" stroke-width="2.6"/><line x1="155.4" y1="425.0" x2="155.4" y2="431.0" stroke-width="3.2"/><line x1="150.4" y1="425.0" x2="160.4" y2="425.0" stroke-width="2.6"/><line x1="150.4" y1="431.0" x2="160.4" y2="431.0" stroke-width="2.6"/><line x1="168.1" y1="418.9" x2="168.1" y2="438.1" stroke-width="3.2"/><line x1="163.1" y1="418.9" x2="173.1" y2="418.9" stroke-width="2.6"/><line x1="163.1" y1="438.1" x2="173.1" y2="438.1" stroke-width="2.6"/><line x1="180.9" y1="414.9" x2="180.9" y2="424.6" stroke-width="3.2"/><line x1="175.9" y1="414.9" x2="185.9" y2="414.9" stroke-width="2.6"/><line x1="175.9" y1="424.6" x2="185.9" y2="424.6" stroke-width="2.6"/><line x1="193.7" y1="419.8" x2="193.7" y2="425.8" stroke-width="3.2"/><line x1="188.7" y1="419.8" x2="198.7" y2="419.8" stroke-width="2.6"/><line x1="188.7" y1="425.8" x2="198.7" y2="425.8" stroke-width="2.6"/><line x1="206.5" y1="422.8" x2="206.5" y2="428.8" stroke-width="3.2"/><line x1="201.5" y1="422.8" x2="211.5" y2="422.8" stroke-width="2.6"/><line x1="201.5" y1="428.8" x2="211.5" y2="428.8" stroke-width="2.6"/><line x1="219.2" y1="423.6" x2="219.2" y2="429.6" stroke-width="3.2"/><line x1="214.2" y1="423.6" x2="224.2" y2="423.6" stroke-width="2.6"/><line x1="214.2" y1="429.6" x2="224.2" y2="429.6" stroke-width="2.6"/><line x1="232.0" y1="425.9" x2="232.0" y2="431.9" stroke-width="3.2"/><line x1="227.0" y1="425.9" x2="237.0" y2="425.9" stroke-width="2.6"/><line x1="227.0" y1="431.9" x2="237.0" y2="431.9" stroke-width="2.6"/><line x1="244.8" y1="429.4" x2="244.8" y2="435.4" stroke-width="3.2"/><line x1="239.8" y1="429.4" x2="249.8" y2="429.4" stroke-width="2.6"/><line x1="239.8" y1="435.4" x2="249.8" y2="435.4" stroke-width="2.6"/><line x1="257.5" y1="428.1" x2="257.5" y2="434.1" stroke-width="3.2"/><line x1="252.5" y1="428.1" x2="262.5" y2="428.1" stroke-width="2.6"/><line x1="252.5" y1="434.1" x2="262.5" y2="434.1" stroke-width="2.6"/><line x1="270.3" y1="432.6" x2="270.3" y2="438.6" stroke-width="3.2"/><line x1="265.3" y1="432.6" x2="275.3" y2="432.6" stroke-width="2.6"/><line x1="265.3" y1="438.6" x2="275.3" y2="438.6" stroke-width="2.6"/><line x1="283.1" y1="426.9" x2="283.1" y2="432.9" stroke-width="3.2"/><line x1="278.1" y1="426.9" x2="288.1" y2="426.9" stroke-width="2.6"/><line x1="278.1" y1="432.9" x2="288.1" y2="432.9" stroke-width="2.6"/><line x1="295.8" y1="425.8" x2="295.8" y2="431.8" stroke-width="3.2"/><line x1="290.8" y1="425.8" x2="300.8" y2="425.8" stroke-width="2.6"/><line x1="290.8" y1="431.8" x2="300.8" y2="431.8" stroke-width="2.6"/><line x1="308.6" y1="424.6" x2="308.6" y2="430.6" stroke-width="3.2"/><line x1="303.6" y1="424.6" x2="313.6" y2="424.6" stroke-width="2.6"/><line x1="303.6" y1="430.6" x2="313.6" y2="430.6" stroke-width="2.6"/><line x1="321.4" y1="422.8" x2="321.4" y2="428.8" stroke-width="3.2"/><line x1="316.4" y1="422.8" x2="326.4" y2="422.8" stroke-width="2.6"/><line x1="316.4" y1="428.8" x2="326.4" y2="428.8" stroke-width="2.6"/><line x1="334.2" y1="418.2" x2="334.2" y2="424.2" stroke-width="3.2"/><line x1="329.2" y1="418.2" x2="339.2" y2="418.2" stroke-width="2.6"/><line x1="329.2" y1="424.2" x2="339.2" y2="424.2" stroke-width="2.6"/><line x1="346.9" y1="420.9" x2="346.9" y2="426.9" stroke-width="3.2"/><line x1="341.9" y1="420.9" x2="351.9" y2="420.9" stroke-width="2.6"/><line x1="341.9" y1="426.9" x2="351.9" y2="426.9" stroke-width="2.6"/><polyline points="78.8,328.7 91.5,395.1 104.3,401.8 117.1,413.8 129.8,414.9 142.6,409.4 155.4,428.0 168.1,428.4 180.9,419.8 193.7,422.8 206.5,425.8 219.2,426.6 232.0,428.9 244.8,432.4 257.5,431.1 270.3,435.6 283.1,429.9 295.8,428.8 308.6,427.6 321.4,425.8 334.2,421.2 346.9,423.9" fill="none" stroke-width="3.7" stroke-linejoin="round"/><circle cx="78.8" cy="328.7" r="3.45" fill="#fff" stroke-width="2.9"/><circle cx="91.5" cy="395.1" r="3.45" fill="#fff" stroke-width="2.9"/><circle cx="104.3" cy="401.8" r="3.45" fill="#fff" stroke-width="2.9"/><circle cx="117.1" cy="413.8" r="3.45" fill="#fff" stroke-width="2.9"/><circle cx="129.8" cy="414.9" r="3.45" fill="#fff" stroke-width="2.9"/><circle cx="142.6" cy="409.4" r="3.45" fill="#fff" stroke-width="2.9"/><circle cx="155.4" cy="428.0" r="3.45" fill="#fff" stroke-width="2.9"/><circle cx="168.1" cy="428.4" r="3.45" fill="#fff" stroke-width="2.9"/><circle cx="180.9" cy="419.8" r="3.45" fill="#fff" stroke-width="2.9"/><circle cx="193.7" cy="422.8" r="3.45" fill="#fff" stroke-width="2.9"/><circle cx="206.5" cy="425.8" r="3.45" fill="#fff" stroke-width="2.9"/><circle cx="219.2" cy="426.6" r="3.45" fill="#fff" stroke-width="2.9"/><circle cx="232.0" cy="428.9" r="3.45" fill="#fff" stroke-width="2.9"/><circle cx="244.8" cy="432.4" r="3.45" fill="#fff" stroke-width="2.9"/><circle cx="257.5" cy="431.1" r="3.45" fill="#fff" stroke-width="2.9"/><circle cx="270.3" cy="435.6" r="3.45" fill="#fff" stroke-width="2.9"/><circle cx="283.1" cy="429.9" r="3.45" fill="#fff" stroke-width="2.9"/><circle cx="295.8" cy="428.8" r="3.45" fill="#fff" stroke-width="2.9"/><circle cx="308.6" cy="427.6" r="3.45" fill="#fff" stroke-width="2.9"/><circle cx="321.4" cy="425.8" r="3.45" fill="#fff" stroke-width="2.9"/><circle cx="334.2" cy="421.2" r="3.45" fill="#fff" stroke-width="2.9"/><circle cx="346.9" cy="423.9" r="3.45" fill="#fff" stroke-width="2.9"/></g>
<g stroke="#102cf5"><line x1="78.8" y1="348.8" x2="78.8" y2="352.4" stroke-width="3.2"/><line x1="73.8" y1="348.8" x2="83.8" y2="348.8" stroke-width="2.6"/><line x1="73.8" y1="352.4" x2="83.8" y2="352.4" stroke-width="2.6"/><line x1="91.5" y1="395.5" x2="91.5" y2="400.3" stroke-width="3.2"/><line x1="86.5" y1="395.5" x2="96.5" y2="395.5" stroke-width="2.6"/><line x1="86.5" y1="400.3" x2="96.5" y2="400.3" stroke-width="2.6"/><line x1="104.3" y1="395.9" x2="104.3" y2="419.9" stroke-width="3.2"/><line x1="99.3" y1="395.9" x2="109.3" y2="395.9" stroke-width="2.6"/><line x1="99.3" y1="419.9" x2="109.3" y2="419.9" stroke-width="2.6"/><line x1="117.1" y1="414.1" x2="117.1" y2="420.1" stroke-width="3.2"/><line x1="112.1" y1="414.1" x2="122.1" y2="414.1" stroke-width="2.6"/><line x1="112.1" y1="420.1" x2="122.1" y2="420.1" stroke-width="2.6"/><line x1="129.8" y1="418.2" x2="129.8" y2="424.2" stroke-width="3.2"/><line x1="124.8" y1="418.2" x2="134.8" y2="418.2" stroke-width="2.6"/><line x1="124.8" y1="424.2" x2="134.8" y2="424.2" stroke-width="2.6"/><line x1="142.6" y1="418.2" x2="142.6" y2="424.2" stroke-width="3.2"/><line x1="137.6" y1="418.2" x2="147.6" y2="418.2" stroke-width="2.6"/><line x1="137.6" y1="424.2" x2="147.6" y2="424.2" stroke-width="2.6"/><line x1="155.4" y1="418.2" x2="155.4" y2="424.2" stroke-width="3.2"/><line x1="150.4" y1="418.2" x2="160.4" y2="418.2" stroke-width="2.6"/><line x1="150.4" y1="424.2" x2="160.4" y2="424.2" stroke-width="2.6"/><line x1="168.1" y1="429.0" x2="168.1" y2="435.0" stroke-width="3.2"/><line x1="163.1" y1="429.0" x2="173.1" y2="429.0" stroke-width="2.6"/><line x1="163.1" y1="435.0" x2="173.1" y2="435.0" stroke-width="2.6"/><line x1="180.9" y1="414.6" x2="180.9" y2="420.6" stroke-width="3.2"/><line x1="175.9" y1="414.6" x2="185.9" y2="414.6" stroke-width="2.6"/><line x1="175.9" y1="420.6" x2="185.9" y2="420.6" stroke-width="2.6"/><line x1="193.7" y1="422.4" x2="193.7" y2="428.4" stroke-width="3.2"/><line x1="188.7" y1="422.4" x2="198.7" y2="422.4" stroke-width="2.6"/><line x1="188.7" y1="428.4" x2="198.7" y2="428.4" stroke-width="2.6"/><line x1="206.5" y1="425.4" x2="206.5" y2="431.4" stroke-width="3.2"/><line x1="201.5" y1="425.4" x2="211.5" y2="425.4" stroke-width="2.6"/><line x1="201.5" y1="431.4" x2="211.5" y2="431.4" stroke-width="2.6"/><line x1="219.2" y1="430.4" x2="219.2" y2="436.4" stroke-width="3.2"/><line x1="214.2" y1="430.4" x2="224.2" y2="430.4" stroke-width="2.6"/><line x1="214.2" y1="436.4" x2="224.2" y2="436.4" stroke-width="2.6"/><line x1="232.0" y1="421.4" x2="232.0" y2="427.4" stroke-width="3.2"/><line x1="227.0" y1="421.4" x2="237.0" y2="421.4" stroke-width="2.6"/><line x1="227.0" y1="427.4" x2="237.0" y2="427.4" stroke-width="2.6"/><line x1="244.8" y1="422.8" x2="244.8" y2="428.8" stroke-width="3.2"/><line x1="239.8" y1="422.8" x2="249.8" y2="422.8" stroke-width="2.6"/><line x1="239.8" y1="428.8" x2="249.8" y2="428.8" stroke-width="2.6"/><line x1="257.5" y1="420.8" x2="257.5" y2="426.8" stroke-width="3.2"/><line x1="252.5" y1="420.8" x2="262.5" y2="420.8" stroke-width="2.6"/><line x1="252.5" y1="426.8" x2="262.5" y2="426.8" stroke-width="2.6"/><line x1="270.3" y1="426.9" x2="270.3" y2="432.9" stroke-width="3.2"/><line x1="265.3" y1="426.9" x2="275.3" y2="426.9" stroke-width="2.6"/><line x1="265.3" y1="432.9" x2="275.3" y2="432.9" stroke-width="2.6"/><line x1="283.1" y1="428.1" x2="283.1" y2="434.1" stroke-width="3.2"/><line x1="278.1" y1="428.1" x2="288.1" y2="428.1" stroke-width="2.6"/><line x1="278.1" y1="434.1" x2="288.1" y2="434.1" stroke-width="2.6"/><line x1="295.8" y1="424.2" x2="295.8" y2="430.2" stroke-width="3.2"/><line x1="290.8" y1="424.2" x2="300.8" y2="424.2" stroke-width="2.6"/><line x1="290.8" y1="430.2" x2="300.8" y2="430.2" stroke-width="2.6"/><line x1="308.6" y1="427.7" x2="308.6" y2="433.7" stroke-width="3.2"/><line x1="303.6" y1="427.7" x2="313.6" y2="427.7" stroke-width="2.6"/><line x1="303.6" y1="433.7" x2="313.6" y2="433.7" stroke-width="2.6"/><line x1="321.4" y1="418.2" x2="321.4" y2="424.2" stroke-width="3.2"/><line x1="316.4" y1="418.2" x2="326.4" y2="418.2" stroke-width="2.6"/><line x1="316.4" y1="424.2" x2="326.4" y2="424.2" stroke-width="2.6"/><line x1="334.2" y1="424.2" x2="334.2" y2="430.2" stroke-width="3.2"/><line x1="329.2" y1="424.2" x2="339.2" y2="424.2" stroke-width="2.6"/><line x1="329.2" y1="430.2" x2="339.2" y2="430.2" stroke-width="2.6"/><line x1="346.9" y1="415.5" x2="346.9" y2="425.1" stroke-width="3.2"/><line x1="341.9" y1="415.5" x2="351.9" y2="415.5" stroke-width="2.6"/><line x1="341.9" y1="425.1" x2="351.9" y2="425.1" stroke-width="2.6"/><polyline points="78.8,350.6 91.5,397.9 104.3,407.9 117.1,417.1 129.8,421.2 142.6,421.2 155.4,421.2 168.1,432.0 180.9,417.6 193.7,425.4 206.5,428.4 219.2,433.4 232.0,424.4 244.8,425.8 257.5,423.8 270.3,429.9 283.1,431.1 295.8,427.2 308.6,430.7 321.4,421.2 334.2,427.2 346.9,420.3" fill="none" stroke-width="3.7" stroke-linejoin="round"/><circle cx="78.8" cy="350.6" r="3.45" fill="#fff" stroke-width="2.9"/><circle cx="91.5" cy="397.9" r="3.45" fill="#fff" stroke-width="2.9"/><circle cx="104.3" cy="407.9" r="3.45" fill="#fff" stroke-width="2.9"/><circle cx="117.1" cy="417.1" r="3.45" fill="#fff" stroke-width="2.9"/><circle cx="129.8" cy="421.2" r="3.45" fill="#fff" stroke-width="2.9"/><circle cx="142.6" cy="421.2" r="3.45" fill="#fff" stroke-width="2.9"/><circle cx="155.4" cy="421.2" r="3.45" fill="#fff" stroke-width="2.9"/><circle cx="168.1" cy="432.0" r="3.45" fill="#fff" stroke-width="2.9"/><circle cx="180.9" cy="417.6" r="3.45" fill="#fff" stroke-width="2.9"/><circle cx="193.7" cy="425.4" r="3.45" fill="#fff" stroke-width="2.9"/><circle cx="206.5" cy="428.4" r="3.45" fill="#fff" stroke-width="2.9"/><circle cx="219.2" cy="433.4" r="3.45" fill="#fff" stroke-width="2.9"/><circle cx="232.0" cy="424.4" r="3.45" fill="#fff" stroke-width="2.9"/><circle cx="244.8" cy="425.8" r="3.45" fill="#fff" stroke-width="2.9"/><circle cx="257.5" cy="423.8" r="3.45" fill="#fff" stroke-width="2.9"/><circle cx="270.3" cy="429.9" r="3.45" fill="#fff" stroke-width="2.9"/><circle cx="283.1" cy="431.1" r="3.45" fill="#fff" stroke-width="2.9"/><circle cx="295.8" cy="427.2" r="3.45" fill="#fff" stroke-width="2.9"/><circle cx="308.6" cy="430.7" r="3.45" fill="#fff" stroke-width="2.9"/><circle cx="321.4" cy="421.2" r="3.45" fill="#fff" stroke-width="2.9"/><circle cx="334.2" cy="427.2" r="3.45" fill="#fff" stroke-width="2.9"/><circle cx="346.9" cy="420.3" r="3.45" fill="#fff" stroke-width="2.9"/></g>
<g font-size="19.7" fill="#000" text-anchor="end">
<text x="69.4" y="503.1" letter-spacing="0.6">0</text>
<text x="69.4" y="443.1" letter-spacing="0.6">100</text>
<text x="69.4" y="383.1" letter-spacing="0.6">200</text>
<text x="69.4" y="323.1" letter-spacing="0.6">300</text>
</g>
<g font-size="19.7" fill="#000" text-anchor="middle">
<text x="78.8" y="522.9">0</text>
<text x="117.1" y="522.9">3</text>
<text x="155.4" y="522.9">6</text>
<text x="193.7" y="522.9">9</text>
<text x="232.0" y="522.9">12</text>
<text x="270.3" y="522.9">15</text>
<text x="308.6" y="522.9">18</text>
<text x="346.9" y="522.9">21</text>
</g>
<text x="146.3" y="545.1" font-size="19.6">Days in Culture</text>
<text transform="translate(17.2 408.6) rotate(-90)" text-anchor="middle" font-size="19.5"># of OTUs (<tspan font-size="17" dy="-8.3">≥</tspan><tspan dy="8.3">97% ANI)</tspan></text>
<text transform="translate(1.6 305.5) scale(1 1.1)" font-size="22.4" font-weight="bold" letter-spacing="1.0">B.</text>
<g stroke="#000" stroke-width="3.9" fill="none">
<line x1="79.6" y1="598.5" x2="79.6" y2="777.7"/>
<line x1="77.6" y1="777.7" x2="348.5" y2="777.7"/>
<line x1="69.6" y1="777.7" x2="79.6" y2="777.7"/>
<line x1="69.6" y1="733.4" x2="79.6" y2="733.4"/>
<line x1="69.6" y1="689.1" x2="79.6" y2="689.1"/>
<line x1="69.6" y1="644.8" x2="79.6" y2="644.8"/>
<line x1="69.6" y1="600.5" x2="79.6" y2="600.5"/>
<line x1="79.6" y1="777.7" x2="79.6" y2="787.1"/>
<line x1="117.7" y1="777.7" x2="117.7" y2="787.1"/>
<line x1="155.9" y1="777.7" x2="155.9" y2="787.1"/>
<line x1="194.0" y1="777.7" x2="194.0" y2="787.1"/>
<line x1="232.2" y1="777.7" x2="232.2" y2="787.1"/>
<line x1="270.3" y1="777.7" x2="270.3" y2="787.1"/>
<line x1="308.4" y1="777.7" x2="308.4" y2="787.1"/>
<line x1="346.6" y1="777.7" x2="346.6" y2="787.1"/>
</g>
<g stroke="#000000"><line x1="79.6" y1="745.8" x2="79.6" y2="749.3" stroke-width="3.2"/><line x1="74.6" y1="745.8" x2="84.6" y2="745.8" stroke-width="2.6"/><line x1="74.6" y1="749.3" x2="84.6" y2="749.3" stroke-width="2.6"/><line x1="92.3" y1="623.8" x2="92.3" y2="648.6" stroke-width="3.2"/><line x1="87.3" y1="623.8" x2="97.3" y2="623.8" stroke-width="2.6"/><line x1="87.3" y1="648.6" x2="97.3" y2="648.6" stroke-width="2.6"/><line x1="105.0" y1="650.0" x2="105.0" y2="681.9" stroke-width="3.2"/><line x1="100.0" y1="650.0" x2="110.0" y2="650.0" stroke-width="2.6"/><line x1="100.0" y1="681.9" x2="110.0" y2="681.9" stroke-width="2.6"/><line x1="117.7" y1="658.1" x2="117.7" y2="668.7" stroke-width="3.2"/><line x1="112.7" y1="658.1" x2="122.7" y2="658.1" stroke-width="2.6"/><line x1="112.7" y1="668.7" x2="122.7" y2="668.7" stroke-width="2.6"/><line x1="130.5" y1="665.7" x2="130.5" y2="676.3" stroke-width="3.2"/><line x1="125.5" y1="665.7" x2="135.5" y2="665.7" stroke-width="2.6"/><line x1="125.5" y1="676.3" x2="135.5" y2="676.3" stroke-width="2.6"/><line x1="143.2" y1="664.3" x2="143.2" y2="674.9" stroke-width="3.2"/><line x1="138.2" y1="664.3" x2="148.2" y2="664.3" stroke-width="2.6"/><line x1="138.2" y1="674.9" x2="148.2" y2="674.9" stroke-width="2.6"/><line x1="155.9" y1="670.8" x2="155.9" y2="681.5" stroke-width="3.2"/><line x1="150.9" y1="670.8" x2="160.9" y2="670.8" stroke-width="2.6"/><line x1="150.9" y1="681.5" x2="160.9" y2="681.5" stroke-width="2.6"/><line x1="168.6" y1="667.0" x2="168.6" y2="681.1" stroke-width="3.2"/><line x1="163.6" y1="667.0" x2="173.6" y2="667.0" stroke-width="2.6"/><line x1="163.6" y1="681.1" x2="173.6" y2="681.1" stroke-width="2.6"/><line x1="181.3" y1="661.9" x2="181.3" y2="693.8" stroke-width="3.2"/><line x1="176.3" y1="661.9" x2="186.3" y2="661.9" stroke-width="2.6"/><line x1="176.3" y1="693.8" x2="186.3" y2="693.8" stroke-width="2.6"/><line x1="194.0" y1="675.8" x2="194.0" y2="690.0" stroke-width="3.2"/><line x1="189.0" y1="675.8" x2="199.0" y2="675.8" stroke-width="2.6"/><line x1="189.0" y1="690.0" x2="199.0" y2="690.0" stroke-width="2.6"/><line x1="206.7" y1="654.5" x2="206.7" y2="691.8" stroke-width="3.2"/><line x1="201.7" y1="654.5" x2="211.7" y2="654.5" stroke-width="2.6"/><line x1="201.7" y1="691.8" x2="211.7" y2="691.8" stroke-width="2.6"/><line x1="219.4" y1="694.4" x2="219.4" y2="705.0" stroke-width="3.2"/><line x1="214.4" y1="694.4" x2="224.4" y2="694.4" stroke-width="2.6"/><line x1="214.4" y1="705.0" x2="224.4" y2="705.0" stroke-width="2.6"/><line x1="232.2" y1="694.4" x2="232.2" y2="708.6" stroke-width="3.2"/><line x1="227.2" y1="694.4" x2="237.2" y2="694.4" stroke-width="2.6"/><line x1="227.2" y1="708.6" x2="237.2" y2="708.6" stroke-width="2.6"/><line x1="244.9" y1="680.2" x2="244.9" y2="698.0" stroke-width="3.2"/><line x1="239.9" y1="680.2" x2="249.9" y2="680.2" stroke-width="2.6"/><line x1="239.9" y1="698.0" x2="249.9" y2="698.0" stroke-width="2.6"/><line x1="257.6" y1="671.4" x2="257.6" y2="692.6" stroke-width="3.2"/><line x1="252.6" y1="671.4" x2="262.6" y2="671.4" stroke-width="2.6"/><line x1="252.6" y1="692.6" x2="262.6" y2="692.6" stroke-width="2.6"/><line x1="270.3" y1="674.9" x2="270.3" y2="694.4" stroke-width="3.2"/><line x1="265.3" y1="674.9" x2="275.3" y2="674.9" stroke-width="2.6"/><line x1="265.3" y1="694.4" x2="275.3" y2="694.4" stroke-width="2.6"/><line x1="283.0" y1="636.8" x2="283.0" y2="702.4" stroke-width="3.2"/><line x1="278.0" y1="636.8" x2="288.0" y2="636.8" stroke-width="2.6"/><line x1="278.0" y1="702.4" x2="288.0" y2="702.4" stroke-width="2.6"/><line x1="295.7" y1="675.8" x2="295.7" y2="693.5" stroke-width="3.2"/><line x1="290.7" y1="675.8" x2="300.7" y2="675.8" stroke-width="2.6"/><line x1="290.7" y1="693.5" x2="300.7" y2="693.5" stroke-width="2.6"/><line x1="308.4" y1="682.0" x2="308.4" y2="696.2" stroke-width="3.2"/><line x1="303.4" y1="682.0" x2="313.4" y2="682.0" stroke-width="2.6"/><line x1="303.4" y1="696.2" x2="313.4" y2="696.2" stroke-width="2.6"/><line x1="321.2" y1="668.7" x2="321.2" y2="698.8" stroke-width="3.2"/><line x1="316.2" y1="668.7" x2="326.2" y2="668.7" stroke-width="2.6"/><line x1="316.2" y1="698.8" x2="326.2" y2="698.8" stroke-width="2.6"/><line x1="333.9" y1="691.1" x2="333.9" y2="708.9" stroke-width="3.2"/><line x1="328.9" y1="691.1" x2="338.9" y2="691.1" stroke-width="2.6"/><line x1="328.9" y1="708.9" x2="338.9" y2="708.9" stroke-width="2.6"/><line x1="346.6" y1="682.5" x2="346.6" y2="707.3" stroke-width="3.2"/><line x1="341.6" y1="682.5" x2="351.6" y2="682.5" stroke-width="2.6"/><line x1="341.6" y1="707.3" x2="351.6" y2="707.3" stroke-width="2.6"/><polyline points="79.6,747.6 92.3,636.2 105.0,666.0 117.7,663.4 130.5,671.0 143.2,669.6 155.9,676.2 168.6,674.0 181.3,677.8 194.0,682.9 206.7,673.2 219.4,699.7 232.2,701.5 244.9,689.1 257.6,682.0 270.3,684.7 283.0,669.6 295.7,684.7 308.4,689.1 321.2,683.8 333.9,700.0 346.6,694.9" fill="none" stroke-width="3.7" stroke-linejoin="round"/><circle cx="79.6" cy="747.6" r="3.45" fill="#fff" stroke-width="2.9"/><circle cx="92.3" cy="636.2" r="3.45" fill="#fff" stroke-width="2.9"/><circle cx="105.0" cy="666.0" r="3.45" fill="#fff" stroke-width="2.9"/><circle cx="117.7" cy="663.4" r="3.45" fill="#fff" stroke-width="2.9"/><circle cx="130.5" cy="671.0" r="3.45" fill="#fff" stroke-width="2.9"/><circle cx="143.2" cy="669.6" r="3.45" fill="#fff" stroke-width="2.9"/><circle cx="155.9" cy="676.2" r="3.45" fill="#fff" stroke-width="2.9"/><circle cx="168.6" cy="674.0" r="3.45" fill="#fff" stroke-width="2.9"/><circle cx="181.3" cy="677.8" r="3.45" fill="#fff" stroke-width="2.9"/><circle cx="194.0" cy="682.9" r="3.45" fill="#fff" stroke-width="2.9"/><circle cx="206.7" cy="673.2" r="3.45" fill="#fff" stroke-width="2.9"/><circle cx="219.4" cy="699.7" r="3.45" fill="#fff" stroke-width="2.9"/><circle cx="232.2" cy="701.5" r="3.45" fill="#fff" stroke-width="2.9"/><circle cx="244.9" cy="689.1" r="3.45" fill="#fff" stroke-width="2.9"/><circle cx="257.6" cy="682.0" r="3.45" fill="#fff" stroke-width="2.9"/><circle cx="270.3" cy="684.7" r="3.45" fill="#fff" stroke-width="2.9"/><circle cx="283.0" cy="669.6" r="3.45" fill="#fff" stroke-width="2.9"/><circle cx="295.7" cy="684.7" r="3.45" fill="#fff" stroke-width="2.9"/><circle cx="308.4" cy="689.1" r="3.45" fill="#fff" stroke-width="2.9"/><circle cx="321.2" cy="683.8" r="3.45" fill="#fff" stroke-width="2.9"/><circle cx="333.9" cy="700.0" r="3.45" fill="#fff" stroke-width="2.9"/><circle cx="346.6" cy="694.9" r="3.45" fill="#fff" stroke-width="2.9"/></g>
<g stroke="#8c28ff"><line x1="79.6" y1="749.9" x2="79.6" y2="753.4" stroke-width="3.2"/><line x1="74.6" y1="749.9" x2="84.6" y2="749.9" stroke-width="2.6"/><line x1="74.6" y1="753.4" x2="84.6" y2="753.4" stroke-width="2.6"/><line x1="92.3" y1="654.3" x2="92.3" y2="704.8" stroke-width="3.2"/><line x1="87.3" y1="654.3" x2="97.3" y2="654.3" stroke-width="2.6"/><line x1="87.3" y1="704.8" x2="97.3" y2="704.8" stroke-width="2.6"/><line x1="105.0" y1="692.6" x2="105.0" y2="747.6" stroke-width="3.2"/><line x1="100.0" y1="692.6" x2="110.0" y2="692.6" stroke-width="2.6"/><line x1="100.0" y1="747.6" x2="110.0" y2="747.6" stroke-width="2.6"/><line x1="117.7" y1="680.2" x2="117.7" y2="698.0" stroke-width="3.2"/><line x1="112.7" y1="680.2" x2="122.7" y2="680.2" stroke-width="2.6"/><line x1="112.7" y1="698.0" x2="122.7" y2="698.0" stroke-width="2.6"/><line x1="130.5" y1="671.4" x2="130.5" y2="689.1" stroke-width="3.2"/><line x1="125.5" y1="671.4" x2="135.5" y2="671.4" stroke-width="2.6"/><line x1="125.5" y1="689.1" x2="135.5" y2="689.1" stroke-width="2.6"/><line x1="143.2" y1="637.7" x2="143.2" y2="673.2" stroke-width="3.2"/><line x1="138.2" y1="637.7" x2="148.2" y2="637.7" stroke-width="2.6"/><line x1="138.2" y1="673.2" x2="148.2" y2="673.2" stroke-width="2.6"/><line x1="155.9" y1="666.1" x2="155.9" y2="698.0" stroke-width="3.2"/><line x1="150.9" y1="666.1" x2="160.9" y2="666.1" stroke-width="2.6"/><line x1="150.9" y1="698.0" x2="160.9" y2="698.0" stroke-width="2.6"/><line x1="168.6" y1="654.1" x2="168.6" y2="703.2" stroke-width="3.2"/><line x1="163.6" y1="654.1" x2="173.6" y2="654.1" stroke-width="2.6"/><line x1="163.6" y1="703.2" x2="173.6" y2="703.2" stroke-width="2.6"/><line x1="181.3" y1="666.0" x2="181.3" y2="716.7" stroke-width="3.2"/><line x1="176.3" y1="666.0" x2="186.3" y2="666.0" stroke-width="2.6"/><line x1="176.3" y1="716.7" x2="186.3" y2="716.7" stroke-width="2.6"/><line x1="194.0" y1="680.2" x2="194.0" y2="698.0" stroke-width="3.2"/><line x1="189.0" y1="680.2" x2="199.0" y2="680.2" stroke-width="2.6"/><line x1="189.0" y1="698.0" x2="199.0" y2="698.0" stroke-width="2.6"/><line x1="206.7" y1="641.3" x2="206.7" y2="702.3" stroke-width="3.2"/><line x1="201.7" y1="641.3" x2="211.7" y2="641.3" stroke-width="2.6"/><line x1="201.7" y1="702.3" x2="211.7" y2="702.3" stroke-width="2.6"/><line x1="219.4" y1="690.3" x2="219.4" y2="732.9" stroke-width="3.2"/><line x1="214.4" y1="690.3" x2="224.4" y2="690.3" stroke-width="2.6"/><line x1="214.4" y1="732.9" x2="224.4" y2="732.9" stroke-width="2.6"/><line x1="232.2" y1="684.7" x2="232.2" y2="720.1" stroke-width="3.2"/><line x1="227.2" y1="684.7" x2="237.2" y2="684.7" stroke-width="2.6"/><line x1="227.2" y1="720.1" x2="237.2" y2="720.1" stroke-width="2.6"/><line x1="244.9" y1="665.2" x2="244.9" y2="695.3" stroke-width="3.2"/><line x1="239.9" y1="665.2" x2="249.9" y2="665.2" stroke-width="2.6"/><line x1="239.9" y1="695.3" x2="249.9" y2="695.3" stroke-width="2.6"/><line x1="257.6" y1="665.2" x2="257.6" y2="691.8" stroke-width="3.2"/><line x1="252.6" y1="665.2" x2="262.6" y2="665.2" stroke-width="2.6"/><line x1="252.6" y1="691.8" x2="262.6" y2="691.8" stroke-width="2.6"/><line x1="270.3" y1="660.2" x2="270.3" y2="695.7" stroke-width="3.2"/><line x1="265.3" y1="660.2" x2="275.3" y2="660.2" stroke-width="2.6"/><line x1="265.3" y1="695.7" x2="275.3" y2="695.7" stroke-width="2.6"/><line x1="283.0" y1="651.0" x2="283.0" y2="682.9" stroke-width="3.2"/><line x1="278.0" y1="651.0" x2="288.0" y2="651.0" stroke-width="2.6"/><line x1="278.0" y1="682.9" x2="288.0" y2="682.9" stroke-width="2.6"/><line x1="295.7" y1="664.3" x2="295.7" y2="696.2" stroke-width="3.2"/><line x1="290.7" y1="664.3" x2="300.7" y2="664.3" stroke-width="2.6"/><line x1="290.7" y1="696.2" x2="300.7" y2="696.2" stroke-width="2.6"/><line x1="308.4" y1="676.7" x2="308.4" y2="694.4" stroke-width="3.2"/><line x1="303.4" y1="676.7" x2="313.4" y2="676.7" stroke-width="2.6"/><line x1="303.4" y1="694.4" x2="313.4" y2="694.4" stroke-width="2.6"/><line x1="321.2" y1="680.2" x2="321.2" y2="698.0" stroke-width="3.2"/><line x1="316.2" y1="680.2" x2="326.2" y2="680.2" stroke-width="2.6"/><line x1="316.2" y1="698.0" x2="326.2" y2="698.0" stroke-width="2.6"/><line x1="333.9" y1="678.2" x2="333.9" y2="704.8" stroke-width="3.2"/><line x1="328.9" y1="678.2" x2="338.9" y2="678.2" stroke-width="2.6"/><line x1="328.9" y1="704.8" x2="338.9" y2="704.8" stroke-width="2.6"/><line x1="346.6" y1="684.7" x2="346.6" y2="702.4" stroke-width="3.2"/><line x1="341.6" y1="684.7" x2="351.6" y2="684.7" stroke-width="2.6"/><line x1="341.6" y1="702.4" x2="351.6" y2="702.4" stroke-width="2.6"/><polyline points="79.6,751.7 92.3,679.5 105.0,720.1 117.7,689.1 130.5,680.2 143.2,655.4 155.9,682.0 168.6,678.6 181.3,691.3 194.0,689.1 206.7,671.8 219.4,711.6 232.2,702.4 244.9,680.2 257.6,678.5 270.3,677.9 283.0,667.0 295.7,680.2 308.4,685.6 321.2,689.1 333.9,691.5 346.6,693.5" fill="none" stroke-width="3.7" stroke-linejoin="round"/><circle cx="79.6" cy="751.7" r="3.45" fill="#fff" stroke-width="2.9"/><circle cx="92.3" cy="679.5" r="3.45" fill="#fff" stroke-width="2.9"/><circle cx="105.0" cy="720.1" r="3.45" fill="#fff" stroke-width="2.9"/><circle cx="117.7" cy="689.1" r="3.45" fill="#fff" stroke-width="2.9"/><circle cx="130.5" cy="680.2" r="3.45" fill="#fff" stroke-width="2.9"/><circle cx="143.2" cy="655.4" r="3.45" fill="#fff" stroke-width="2.9"/><circle cx="155.9" cy="682.0" r="3.45" fill="#fff" stroke-width="2.9"/><circle cx="168.6" cy="678.6" r="3.45" fill="#fff" stroke-width="2.9"/><circle cx="181.3" cy="691.3" r="3.45" fill="#fff" stroke-width="2.9"/><circle cx="194.0" cy="689.1" r="3.45" fill="#fff" stroke-width="2.9"/><circle cx="206.7" cy="671.8" r="3.45" fill="#fff" stroke-width="2.9"/><circle cx="219.4" cy="711.6" r="3.45" fill="#fff" stroke-width="2.9"/><circle cx="232.2" cy="702.4" r="3.45" fill="#fff" stroke-width="2.9"/><circle cx="244.9" cy="680.2" r="3.45" fill="#fff" stroke-width="2.9"/><circle cx="257.6" cy="678.5" r="3.45" fill="#fff" stroke-width="2.9"/><circle cx="270.3" cy="677.9" r="3.45" fill="#fff" stroke-width="2.9"/><circle cx="283.0" cy="667.0" r="3.45" fill="#fff" stroke-width="2.9"/><circle cx="295.7" cy="680.2" r="3.45" fill="#fff" stroke-width="2.9"/><circle cx="308.4" cy="685.6" r="3.45" fill="#fff" stroke-width="2.9"/><circle cx="321.2" cy="689.1" r="3.45" fill="#fff" stroke-width="2.9"/><circle cx="333.9" cy="691.5" r="3.45" fill="#fff" stroke-width="2.9"/><circle cx="346.6" cy="693.5" r="3.45" fill="#fff" stroke-width="2.9"/></g>
<g stroke="#05f505"><line x1="79.6" y1="730.9" x2="79.6" y2="734.5" stroke-width="3.2"/><line x1="74.6" y1="730.9" x2="84.6" y2="730.9" stroke-width="2.6"/><line x1="74.6" y1="734.5" x2="84.6" y2="734.5" stroke-width="2.6"/><line x1="92.3" y1="645.9" x2="92.3" y2="649.4" stroke-width="3.2"/><line x1="87.3" y1="645.9" x2="97.3" y2="645.9" stroke-width="2.6"/><line x1="87.3" y1="649.4" x2="97.3" y2="649.4" stroke-width="2.6"/><line x1="105.0" y1="688.2" x2="105.0" y2="698.8" stroke-width="3.2"/><line x1="100.0" y1="688.2" x2="110.0" y2="688.2" stroke-width="2.6"/><line x1="100.0" y1="698.8" x2="110.0" y2="698.8" stroke-width="2.6"/><line x1="117.7" y1="684.0" x2="117.7" y2="694.7" stroke-width="3.2"/><line x1="112.7" y1="684.0" x2="122.7" y2="684.0" stroke-width="2.6"/><line x1="112.7" y1="694.7" x2="122.7" y2="694.7" stroke-width="2.6"/><line x1="130.5" y1="679.4" x2="130.5" y2="693.5" stroke-width="3.2"/><line x1="125.5" y1="679.4" x2="135.5" y2="679.4" stroke-width="2.6"/><line x1="125.5" y1="693.5" x2="135.5" y2="693.5" stroke-width="2.6"/><line x1="143.2" y1="670.9" x2="143.2" y2="713.5" stroke-width="3.2"/><line x1="138.2" y1="670.9" x2="148.2" y2="670.9" stroke-width="2.6"/><line x1="138.2" y1="713.5" x2="148.2" y2="713.5" stroke-width="2.6"/><line x1="155.9" y1="702.8" x2="155.9" y2="717.0" stroke-width="3.2"/><line x1="150.9" y1="702.8" x2="160.9" y2="702.8" stroke-width="2.6"/><line x1="150.9" y1="717.0" x2="160.9" y2="717.0" stroke-width="2.6"/><line x1="168.6" y1="699.7" x2="168.6" y2="717.5" stroke-width="3.2"/><line x1="163.6" y1="699.7" x2="173.6" y2="699.7" stroke-width="2.6"/><line x1="163.6" y1="717.5" x2="173.6" y2="717.5" stroke-width="2.6"/><line x1="181.3" y1="710.5" x2="181.3" y2="724.6" stroke-width="3.2"/><line x1="176.3" y1="710.5" x2="186.3" y2="710.5" stroke-width="2.6"/><line x1="176.3" y1="724.6" x2="186.3" y2="724.6" stroke-width="2.6"/><line x1="194.0" y1="701.9" x2="194.0" y2="716.1" stroke-width="3.2"/><line x1="189.0" y1="701.9" x2="199.0" y2="701.9" stroke-width="2.6"/><line x1="189.0" y1="716.1" x2="199.0" y2="716.1" stroke-width="2.6"/><line x1="206.7" y1="692.6" x2="206.7" y2="706.8" stroke-width="3.2"/><line x1="201.7" y1="692.6" x2="211.7" y2="692.6" stroke-width="2.6"/><line x1="201.7" y1="706.8" x2="211.7" y2="706.8" stroke-width="2.6"/><line x1="219.4" y1="709.5" x2="219.4" y2="727.2" stroke-width="3.2"/><line x1="214.4" y1="709.5" x2="224.4" y2="709.5" stroke-width="2.6"/><line x1="214.4" y1="727.2" x2="224.4" y2="727.2" stroke-width="2.6"/><line x1="232.2" y1="713.9" x2="232.2" y2="728.1" stroke-width="3.2"/><line x1="227.2" y1="713.9" x2="237.2" y2="713.9" stroke-width="2.6"/><line x1="227.2" y1="728.1" x2="237.2" y2="728.1" stroke-width="2.6"/><line x1="244.9" y1="706.1" x2="244.9" y2="723.8" stroke-width="3.2"/><line x1="239.9" y1="706.1" x2="249.9" y2="706.1" stroke-width="2.6"/><line x1="239.9" y1="723.8" x2="249.9" y2="723.8" stroke-width="2.6"/><line x1="257.6" y1="709.5" x2="257.6" y2="723.7" stroke-width="3.2"/><line x1="252.6" y1="709.5" x2="262.6" y2="709.5" stroke-width="2.6"/><line x1="252.6" y1="723.7" x2="262.6" y2="723.7" stroke-width="2.6"/><line x1="270.3" y1="703.9" x2="270.3" y2="718.1" stroke-width="3.2"/><line x1="265.3" y1="703.9" x2="275.3" y2="703.9" stroke-width="2.6"/><line x1="265.3" y1="718.1" x2="275.3" y2="718.1" stroke-width="2.6"/><line x1="283.0" y1="691.5" x2="283.0" y2="705.7" stroke-width="3.2"/><line x1="278.0" y1="691.5" x2="288.0" y2="691.5" stroke-width="2.6"/><line x1="278.0" y1="705.7" x2="288.0" y2="705.7" stroke-width="2.6"/><line x1="295.7" y1="680.6" x2="295.7" y2="716.0" stroke-width="3.2"/><line x1="290.7" y1="680.6" x2="300.7" y2="680.6" stroke-width="2.6"/><line x1="290.7" y1="716.0" x2="300.7" y2="716.0" stroke-width="2.6"/><line x1="308.4" y1="691.9" x2="308.4" y2="709.7" stroke-width="3.2"/><line x1="303.4" y1="691.9" x2="313.4" y2="691.9" stroke-width="2.6"/><line x1="303.4" y1="709.7" x2="313.4" y2="709.7" stroke-width="2.6"/><line x1="321.2" y1="687.8" x2="321.2" y2="717.0" stroke-width="3.2"/><line x1="316.2" y1="687.8" x2="326.2" y2="687.8" stroke-width="2.6"/><line x1="316.2" y1="717.0" x2="326.2" y2="717.0" stroke-width="2.6"/><line x1="333.9" y1="698.0" x2="333.9" y2="715.7" stroke-width="3.2"/><line x1="328.9" y1="698.0" x2="338.9" y2="698.0" stroke-width="2.6"/><line x1="328.9" y1="715.7" x2="338.9" y2="715.7" stroke-width="2.6"/><line x1="346.6" y1="694.4" x2="346.6" y2="712.1" stroke-width="3.2"/><line x1="341.6" y1="694.4" x2="351.6" y2="694.4" stroke-width="2.6"/><line x1="341.6" y1="712.1" x2="351.6" y2="712.1" stroke-width="2.6"/><polyline points="79.6,732.7 92.3,647.6 105.0,693.5 117.7,689.4 130.5,686.4 143.2,692.2 155.9,709.9 168.6,708.6 181.3,717.5 194.0,709.0 206.7,699.7 219.4,718.3 232.2,721.0 244.9,715.0 257.6,716.6 270.3,711.0 283.0,698.6 295.7,698.3 308.4,700.8 321.2,702.4 333.9,706.8 346.6,703.3" fill="none" stroke-width="3.7" stroke-linejoin="round"/><circle cx="79.6" cy="732.7" r="3.45" fill="#fff" stroke-width="2.9"/><circle cx="92.3" cy="647.6" r="3.45" fill="#fff" stroke-width="2.9"/><circle cx="105.0" cy="693.5" r="3.45" fill="#fff" stroke-width="2.9"/><circle cx="117.7" cy="689.4" r="3.45" fill="#fff" stroke-width="2.9"/><circle cx="130.5" cy="686.4" r="3.45" fill="#fff" stroke-width="2.9"/><circle cx="143.2" cy="692.2" r="3.45" fill="#fff" stroke-width="2.9"/><circle cx="155.9" cy="709.9" r="3.45" fill="#fff" stroke-width="2.9"/><circle cx="168.6" cy="708.6" r="3.45" fill="#fff" stroke-width="2.9"/><circle cx="181.3" cy="717.5" r="3.45" fill="#fff" stroke-width="2.9"/><circle cx="194.0" cy="709.0" r="3.45" fill="#fff" stroke-width="2.9"/><circle cx="206.7" cy="699.7" r="3.45" fill="#fff" stroke-width="2.9"/><circle cx="219.4" cy="718.3" r="3.45" fill="#fff" stroke-width="2.9"/><circle cx="232.2" cy="721.0" r="3.45" fill="#fff" stroke-width="2.9"/><circle cx="244.9" cy="715.0" r="3.45" fill="#fff" stroke-width="2.9"/><circle cx="257.6" cy="716.6" r="3.45" fill="#fff" stroke-width="2.9"/><circle cx="270.3" cy="711.0" r="3.45" fill="#fff" stroke-width="2.9"/><circle cx="283.0" cy="698.6" r="3.45" fill="#fff" stroke-width="2.9"/><circle cx="295.7" cy="698.3" r="3.45" fill="#fff" stroke-width="2.9"/><circle cx="308.4" cy="700.8" r="3.45" fill="#fff" stroke-width="2.9"/><circle cx="321.2" cy="702.4" r="3.45" fill="#fff" stroke-width="2.9"/><circle cx="333.9" cy="706.8" r="3.45" fill="#fff" stroke-width="2.9"/><circle cx="346.6" cy="703.3" r="3.45" fill="#fff" stroke-width="2.9"/></g>
<g stroke="#102cf5"><line x1="79.6" y1="742.7" x2="79.6" y2="746.2" stroke-width="3.2"/><line x1="74.6" y1="742.7" x2="84.6" y2="742.7" stroke-width="2.6"/><line x1="74.6" y1="746.2" x2="84.6" y2="746.2" stroke-width="2.6"/><line x1="92.3" y1="657.0" x2="92.3" y2="660.6" stroke-width="3.2"/><line x1="87.3" y1="657.0" x2="97.3" y2="657.0" stroke-width="2.6"/><line x1="87.3" y1="660.6" x2="97.3" y2="660.6" stroke-width="2.6"/><line x1="105.0" y1="699.5" x2="105.0" y2="706.6" stroke-width="3.2"/><line x1="100.0" y1="699.5" x2="110.0" y2="699.5" stroke-width="2.6"/><line x1="100.0" y1="706.6" x2="110.0" y2="706.6" stroke-width="2.6"/><line x1="117.7" y1="657.1" x2="117.7" y2="680.2" stroke-width="3.2"/><line x1="112.7" y1="657.1" x2="122.7" y2="657.1" stroke-width="2.6"/><line x1="112.7" y1="680.2" x2="122.7" y2="680.2" stroke-width="2.6"/><line x1="130.5" y1="686.6" x2="130.5" y2="706.1" stroke-width="3.2"/><line x1="125.5" y1="686.6" x2="135.5" y2="686.6" stroke-width="2.6"/><line x1="125.5" y1="706.1" x2="135.5" y2="706.1" stroke-width="2.6"/><line x1="143.2" y1="687.3" x2="143.2" y2="701.5" stroke-width="3.2"/><line x1="138.2" y1="687.3" x2="148.2" y2="687.3" stroke-width="2.6"/><line x1="138.2" y1="701.5" x2="148.2" y2="701.5" stroke-width="2.6"/><line x1="155.9" y1="685.8" x2="155.9" y2="703.5" stroke-width="3.2"/><line x1="150.9" y1="685.8" x2="160.9" y2="685.8" stroke-width="2.6"/><line x1="150.9" y1="703.5" x2="160.9" y2="703.5" stroke-width="2.6"/><line x1="168.6" y1="685.7" x2="168.6" y2="721.2" stroke-width="3.2"/><line x1="163.6" y1="685.7" x2="173.6" y2="685.7" stroke-width="2.6"/><line x1="163.6" y1="721.2" x2="173.6" y2="721.2" stroke-width="2.6"/><line x1="181.3" y1="697.0" x2="181.3" y2="707.6" stroke-width="3.2"/><line x1="176.3" y1="697.0" x2="186.3" y2="697.0" stroke-width="2.6"/><line x1="176.3" y1="707.6" x2="186.3" y2="707.6" stroke-width="2.6"/><line x1="194.0" y1="688.6" x2="194.0" y2="699.2" stroke-width="3.2"/><line x1="189.0" y1="688.6" x2="199.0" y2="688.6" stroke-width="2.6"/><line x1="189.0" y1="699.2" x2="199.0" y2="699.2" stroke-width="2.6"/><line x1="206.7" y1="680.0" x2="206.7" y2="697.7" stroke-width="3.2"/><line x1="201.7" y1="680.0" x2="211.7" y2="680.0" stroke-width="2.6"/><line x1="201.7" y1="697.7" x2="211.7" y2="697.7" stroke-width="2.6"/><line x1="219.4" y1="699.7" x2="219.4" y2="717.5" stroke-width="3.2"/><line x1="214.4" y1="699.7" x2="224.4" y2="699.7" stroke-width="2.6"/><line x1="214.4" y1="717.5" x2="224.4" y2="717.5" stroke-width="2.6"/><line x1="232.2" y1="700.3" x2="232.2" y2="714.4" stroke-width="3.2"/><line x1="227.2" y1="700.3" x2="237.2" y2="700.3" stroke-width="2.6"/><line x1="227.2" y1="714.4" x2="237.2" y2="714.4" stroke-width="2.6"/><line x1="244.9" y1="678.5" x2="244.9" y2="701.5" stroke-width="3.2"/><line x1="239.9" y1="678.5" x2="249.9" y2="678.5" stroke-width="2.6"/><line x1="239.9" y1="701.5" x2="249.9" y2="701.5" stroke-width="2.6"/><line x1="257.6" y1="677.4" x2="257.6" y2="698.7" stroke-width="3.2"/><line x1="252.6" y1="677.4" x2="262.6" y2="677.4" stroke-width="2.6"/><line x1="252.6" y1="698.7" x2="262.6" y2="698.7" stroke-width="2.6"/><line x1="270.3" y1="634.2" x2="270.3" y2="701.9" stroke-width="3.2"/><line x1="265.3" y1="634.2" x2="275.3" y2="634.2" stroke-width="2.6"/><line x1="265.3" y1="701.9" x2="275.3" y2="701.9" stroke-width="2.6"/><line x1="283.0" y1="660.9" x2="283.0" y2="687.5" stroke-width="3.2"/><line x1="278.0" y1="660.9" x2="288.0" y2="660.9" stroke-width="2.6"/><line x1="278.0" y1="687.5" x2="288.0" y2="687.5" stroke-width="2.6"/><line x1="295.7" y1="682.9" x2="295.7" y2="704.2" stroke-width="3.2"/><line x1="290.7" y1="682.9" x2="300.7" y2="682.9" stroke-width="2.6"/><line x1="290.7" y1="704.2" x2="300.7" y2="704.2" stroke-width="2.6"/><line x1="308.4" y1="702.1" x2="308.4" y2="719.8" stroke-width="3.2"/><line x1="303.4" y1="702.1" x2="313.4" y2="702.1" stroke-width="2.6"/><line x1="303.4" y1="719.8" x2="313.4" y2="719.8" stroke-width="2.6"/><line x1="321.2" y1="692.5" x2="321.2" y2="722.6" stroke-width="3.2"/><line x1="316.2" y1="692.5" x2="326.2" y2="692.5" stroke-width="2.6"/><line x1="316.2" y1="722.6" x2="326.2" y2="722.6" stroke-width="2.6"/><line x1="333.9" y1="699.4" x2="333.9" y2="724.2" stroke-width="3.2"/><line x1="328.9" y1="699.4" x2="338.9" y2="699.4" stroke-width="2.6"/><line x1="328.9" y1="724.2" x2="338.9" y2="724.2" stroke-width="2.6"/><line x1="346.6" y1="694.2" x2="346.6" y2="724.3" stroke-width="3.2"/><line x1="341.6" y1="694.2" x2="351.6" y2="694.2" stroke-width="2.6"/><line x1="341.6" y1="724.3" x2="351.6" y2="724.3" stroke-width="2.6"/><polyline points="79.6,744.5 92.3,658.8 105.0,703.0 117.7,668.6 130.5,696.4 143.2,694.4 155.9,694.7 168.6,703.5 181.3,702.3 194.0,693.9 206.7,688.8 219.4,708.6 232.2,707.4 244.9,690.0 257.6,688.0 270.3,668.0 283.0,674.2 295.7,693.5 308.4,711.0 321.2,707.5 333.9,711.8 346.6,709.2" fill="none" stroke-width="3.7" stroke-linejoin="round"/><circle cx="79.6" cy="744.5" r="3.45" fill="#fff" stroke-width="2.9"/><circle cx="92.3" cy="658.8" r="3.45" fill="#fff" stroke-width="2.9"/><circle cx="105.0" cy="703.0" r="3.45" fill="#fff" stroke-width="2.9"/><circle cx="117.7" cy="668.6" r="3.45" fill="#fff" stroke-width="2.9"/><circle cx="130.5" cy="696.4" r="3.45" fill="#fff" stroke-width="2.9"/><circle cx="143.2" cy="694.4" r="3.45" fill="#fff" stroke-width="2.9"/><circle cx="155.9" cy="694.7" r="3.45" fill="#fff" stroke-width="2.9"/><circle cx="168.6" cy="703.5" r="3.45" fill="#fff" stroke-width="2.9"/><circle cx="181.3" cy="702.3" r="3.45" fill="#fff" stroke-width="2.9"/><circle cx="194.0" cy="693.9" r="3.45" fill="#fff" stroke-width="2.9"/><circle cx="206.7" cy="688.8" r="3.45" fill="#fff" stroke-width="2.9"/><circle cx="219.4" cy="708.6" r="3.45" fill="#fff" stroke-width="2.9"/><circle cx="232.2" cy="707.4" r="3.45" fill="#fff" stroke-width="2.9"/><circle cx="244.9" cy="690.0" r="3.45" fill="#fff" stroke-width="2.9"/><circle cx="257.6" cy="688.0" r="3.45" fill="#fff" stroke-width="2.9"/><circle cx="270.3" cy="668.0" r="3.45" fill="#fff" stroke-width="2.9"/><circle cx="283.0" cy="674.2" r="3.45" fill="#fff" stroke-width="2.9"/><circle cx="295.7" cy="693.5" r="3.45" fill="#fff" stroke-width="2.9"/><circle cx="308.4" cy="711.0" r="3.45" fill="#fff" stroke-width="2.9"/><circle cx="321.2" cy="707.5" r="3.45" fill="#fff" stroke-width="2.9"/><circle cx="333.9" cy="711.8" r="3.45" fill="#fff" stroke-width="2.9"/><circle cx="346.6" cy="709.2" r="3.45" fill="#fff" stroke-width="2.9"/></g>
<g font-size="19.7" fill="#000" text-anchor="end">
<text x="68.8" y="785.2" letter-spacing="0">0.00</text>
<text x="68.8" y="740.9" letter-spacing="0">0.05</text>
<text x="68.8" y="696.6" letter-spacing="0">0.10</text>
<text x="68.8" y="652.3" letter-spacing="0">0.15</text>
<text x="68.8" y="608.0" letter-spacing="0">0.20</text>
</g>
<g font-size="19.7" fill="#000" text-anchor="middle">
<text x="79.6" y="805.8">0</text>
<text x="117.7" y="805.8">3</text>
<text x="155.9" y="805.8">6</text>
<text x="194.0" y="805.8">9</text>
<text x="232.2" y="805.8">12</text>
<text x="270.3" y="805.8">15</text>
<text x="308.4" y="805.8">18</text>
<text x="346.6" y="805.8">21</text>
</g>
<text x="146.3" y="827.8" font-size="19.6">Days in Culture</text>
<text transform="translate(17.2 684.7) rotate(-90)" text-anchor="middle" font-size="19.7">Simpson Evenness</text>
<text transform="translate(0.9 587.0) scale(1 1.1)" font-size="22.4" font-weight="bold" letter-spacing="1.0">C.</text>
<line x1="105.2" y1="42.6" x2="130.7" y2="42.6" stroke="#102cf5" stroke-width="3.7"/><circle cx="119.4" cy="42.6" r="5" fill="#102cf5"/>
<line x1="105.2" y1="64.6" x2="130.7" y2="64.6" stroke="#05f505" stroke-width="3.7"/><circle cx="119.4" cy="64.6" r="5" fill="#05f505"/>
<line x1="233.5" y1="42.6" x2="262.3" y2="42.6" stroke="#8c28ff" stroke-width="3.7"/><circle cx="247.9" cy="42.6" r="3.45" fill="#fff" stroke="#8c28ff" stroke-width="2.9"/>
<line x1="232.5" y1="64.6" x2="261.5" y2="64.6" stroke="#000000" stroke-width="3.7"/><circle cx="246.9" cy="64.6" r="3.45" fill="#fff" stroke="#000000" stroke-width="2.9"/>
<g font-size="18.5" fill="#000">
<text x="146.6" y="49.2">Donor A</text>
<text x="146.6" y="70.9">Donor B</text>
<text x="275.3" y="49.2">Donor C</text>
<text x="276.1" y="70.9" letter-spacing="0.8">Pool</text>
</g>
</svg>
</body></html>
